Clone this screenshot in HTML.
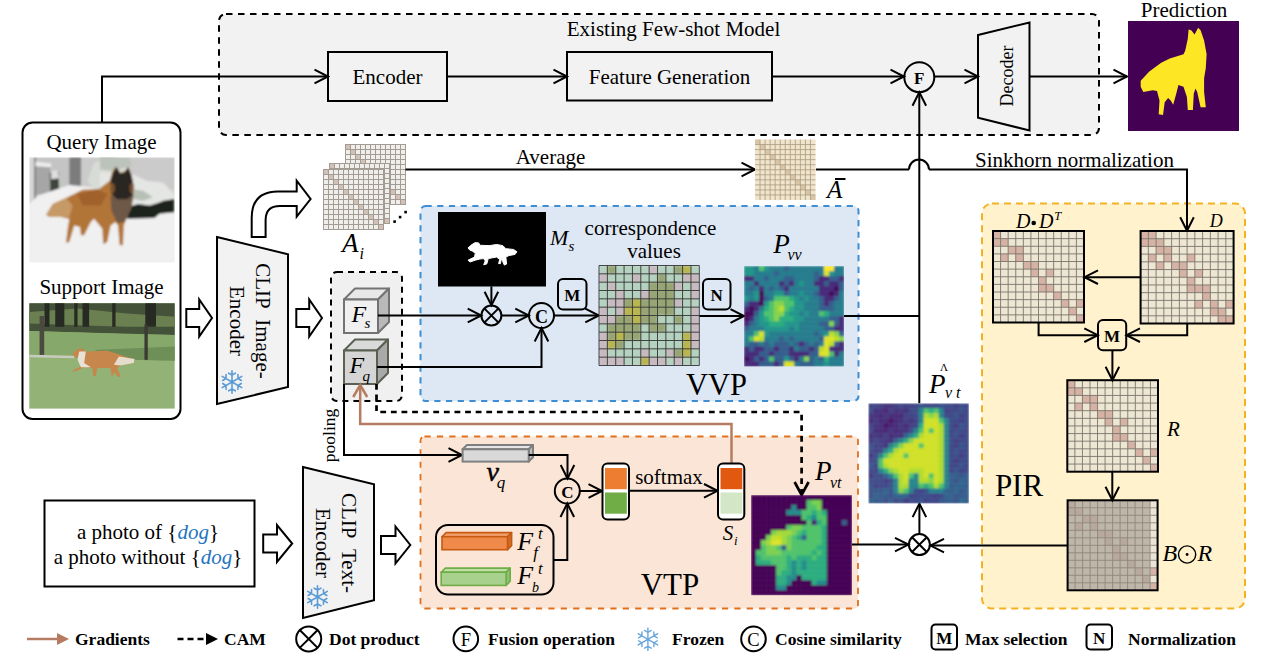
<!DOCTYPE html>
<html><head><meta charset="utf-8"><style>
html,body{margin:0;padding:0;background:#fff;width:1266px;height:654px;overflow:hidden}
svg{display:block}
svg text{font-family:"Liberation Serif",serif}
</style></head><body>
<svg width="1266" height="654" viewBox="0 0 1266 654">
<defs>
<filter id="bl1" x="-10%" y="-10%" width="120%" height="120%"><feGaussianBlur stdDeviation="0.9"/></filter>
<filter id="bl07" x="-10%" y="-10%" width="120%" height="120%"><feGaussianBlur stdDeviation="0.8"/></filter>
<filter id="bl2" x="-10%" y="-10%" width="120%" height="120%"><feGaussianBlur stdDeviation="2.5"/></filter>
<clipPath id="ccorr"><rect x="599" y="265.5" width="100.3" height="100"/></clipPath>
<clipPath id="cq"><rect x="29.3" y="157.3" width="145.4" height="105.3"/></clipPath>
<clipPath id="cvv"><rect x="744" y="266" width="100" height="100.5"/></clipPath>
<clipPath id="cvt"><rect x="751" y="495" width="101" height="100.3"/></clipPath>
<clipPath id="cvth"><rect x="868.3" y="403.2" width="100.6" height="100.2"/></clipPath>
</defs>
<rect x="219" y="14" width="880" height="121" rx="7" fill="#f2f2f2" stroke="#000" stroke-width="2" stroke-dasharray="6.5 5.5"/>
<rect x="420.5" y="206" width="438" height="195" rx="5" fill="#dde8f4" stroke="#3d8ed4" stroke-width="2" stroke-dasharray="6.2 5.5"/>
<rect x="420.5" y="436.5" width="437.5" height="172" rx="4" fill="#fbe5d6" stroke="#e2711d" stroke-width="1.8" stroke-dasharray="6.2 6.2"/>
<rect x="982" y="203.5" width="263" height="405" rx="10" fill="#fff2cc" stroke="#f5b220" stroke-width="2" stroke-dasharray="7 5"/>
<rect x="331" y="272" width="71" height="129" rx="6" fill="#f0f0f0" stroke="#000" stroke-width="2" stroke-dasharray="6 5"/>
<text x="673.5" y="35.5" font-size="21" text-anchor="middle" font-weight="normal" font-style="normal" fill="#000" >Existing Few-shot Model</text>
<rect x="328" y="52" width="119" height="49" fill="none" stroke="#000" stroke-width="2"/>
<text x="387.5" y="83.5" font-size="21" text-anchor="middle" font-weight="normal" font-style="normal" fill="#000" >Encoder</text>
<rect x="567" y="52" width="205" height="48.5" fill="none" stroke="#000" stroke-width="2"/>
<text x="669.5" y="83.5" font-size="21" text-anchor="middle" font-weight="normal" font-style="normal" fill="#000" >Feature Generation</text>
<path d="M102,122 L102,76.5 L328,76.5" fill="none" stroke="#000" stroke-width="2" />
<path d="M314.5,83.3 L328,76.5 L314.5,69.7" fill="none" stroke="#000" stroke-width="2" stroke-linejoin="miter"/>
<path d="M447,76.5 L567,76.5" fill="none" stroke="#000" stroke-width="2" />
<path d="M553.5,83.3 L567,76.5 L553.5,69.7" fill="none" stroke="#000" stroke-width="2" stroke-linejoin="miter"/>
<path d="M772,76.5 L904,76.5" fill="none" stroke="#000" stroke-width="2" />
<path d="M890.5,83.3 L904,76.5 L890.5,69.7" fill="none" stroke="#000" stroke-width="2" stroke-linejoin="miter"/>
<circle cx="919.3" cy="77.2" r="15" fill="none" stroke="#000" stroke-width="2"/>
<text x="919.3" y="83.5" font-size="17" text-anchor="middle" font-weight="bold" font-style="normal" fill="#000" >F</text>
<path d="M934.5,76.5 L978,76.5" fill="none" stroke="#000" stroke-width="2" />
<path d="M964.5,83.3 L978,76.5 L964.5,69.7" fill="none" stroke="#000" stroke-width="2" stroke-linejoin="miter"/>
<path d="M978,35 L1029.5,22.5 L1029.5,130.5 L978,117.7 Z" fill="none" stroke="#000" stroke-width="2"/>
<text x="0" y="0" font-size="18" text-anchor="middle" font-weight="normal" font-style="normal" fill="#000" transform="translate(1012.5,76) rotate(-90)">Decoder</text>
<path d="M1029.5,76.5 L1127,76.5" fill="none" stroke="#000" stroke-width="2" />
<path d="M1113.5,83.3 L1127,76.5 L1113.5,69.7" fill="none" stroke="#000" stroke-width="2" stroke-linejoin="miter"/>
<text x="1184" y="17" font-size="21" text-anchor="middle" font-weight="normal" font-style="normal" fill="#000" >Prediction</text>
<rect x="1128" y="21" width="111" height="110" fill="#440154"/>
<path d="M1140.7,80.8 L1149.3,71.4 L1161.2,62.8 L1169.8,58.5 L1183.5,54.2 L1185.2,50.8 L1187.8,38.8 L1188.6,29.4 L1191.2,30.3 L1194.6,34.6 L1198.1,27.7 L1200.6,30.3 L1204.1,40.5 L1206.6,54.2 L1205.8,67.9 L1204.1,78.2 L1204.1,91.9 L1205.8,107.3 L1200.6,107.3 L1197.2,91.9 L1195.5,88.5 L1193.8,93.6 L1192.9,109.9 L1187.8,109.9 L1186.9,97.1 L1183.5,86.8 L1178.4,85.1 L1176.7,91.9 L1173.2,104.8 L1170.7,100.5 L1168.1,97.9 L1164.7,102.2 L1163.0,115.0 L1158.7,114.2 L1159.5,100.5 L1157.0,91.1 L1152.7,90.2 L1143.3,91.9 L1140.7,86.8 Z" fill="#fde725"/>
<rect x="22.5" y="122.5" width="158" height="296.5" rx="10" fill="#fff" stroke="#000" stroke-width="2"/>
<text x="101.5" y="149.3" font-size="21" text-anchor="middle" font-weight="normal" font-style="normal" fill="#000" >Query Image</text>
<text x="101.5" y="294" font-size="21" text-anchor="middle" font-weight="normal" font-style="normal" fill="#000" >Support Image</text>
<g clip-path="url(#cq)"><g filter="url(#bl07)">
<rect x="29.3" y="157.3" width="145.4" height="105.3" fill="#cdcdcd"/>
<path d="M29.32,157.32 L69.30,157.32 L69.30,185.73 L29.32,202.25 Z" fill="#c4c4c4"/>
<path d="M29.32,157.32 L34.61,157.32 L34.61,198.95 L29.32,203.90 Z" fill="#d6d6d6"/>
<path d="M34.28,157.32 L35.93,157.32 L35.93,197.30 L34.28,199.28 Z" fill="#707070"/>
<path d="M35.93,165.08 L50.30,165.91 L50.30,193.17 L35.93,194.82 Z" fill="#a6a6a6"/>
<path d="M35.43,161.78 L51.13,163.43 L51.13,167.23 L35.43,166.24 Z" fill="#eeeeee"/>
<path d="M49.80,172.52 L58.56,171.69 L59.38,193.99 L50.30,194.32 Z" fill="#3e443e"/>
<path d="M51.13,170.87 L57.73,170.54 L59.05,178.30 L51.13,179.13 Z" fill="#dedede"/>
<path d="M69.30,157.32 L81.19,157.32 L81.19,193.17 L69.30,195.31 Z" fill="#7c7c7c"/>
<path d="M81.19,157.32 L174.68,157.32 L174.68,189.04 L81.19,189.04 Z" fill="#cbcbcb"/>
<path d="M29.32,203.90 L37.91,195.64 L69.30,184.91 L94.07,187.38 L174.68,210.51 L174.68,262.54 L29.32,262.54 Z" fill="#f0f0f0"/>
<path d="M87.46,180.78 L94.07,162.61 L107.29,158.48 L120.50,159.30 L127.11,165.91 L130.41,175.82 L113.89,189.04 L94.07,189.04 Z" fill="#d8dcd6"/>
<path d="M100.00,172.53 L109.92,172.53 L133.06,174.18 L146.28,180.79 L162.81,182.45 L172.73,192.36 L174.38,198.98 L164.46,200.63 L157.85,203.11 L149.59,205.59 L138.02,203.93 L127.27,207.24 L127.27,218.81 L100.00,218.81 Z" fill="#e4e6e3"/>
<path d="M131.40,189.06 L142.98,190.71 L152.89,197.32 L142.98,200.63 L133.06,198.98 Z" fill="#b8c0b6"/>
<path d="M100.00,156.00 L109.92,156.00 L129.75,157.65 L131.40,165.92 L113.22,170.88 L100.00,169.22 Z" fill="#bcc3ba"/>
<path d="M127.27,218.81 L127.27,207.24 L138.02,203.93 L149.59,205.59 L157.85,203.11 L163.64,200.63 L174.38,198.98 L174.38,212.20 L159.50,213.85 L154.55,217.98 Z" fill="#1e231e"/>
<path d="M46.17,214.64 L52.78,203.90 L65.99,198.12 L82.51,189.86 L99.03,189.04 L109.76,180.78 L112.24,171.69 L115.55,166.74 L119.67,173.34 L125.46,170.87 L128.76,167.56 L132.06,177.47 L133.72,189.04 L132.06,202.25 L127.11,217.12 L123.80,225.38 L122.98,245.20 L119.67,245.20 L118.02,225.38 L115.55,222.07 L110.59,225.38 L107.29,241.89 L103.16,244.37 L102.33,228.68 L94.07,218.77 L90.77,222.07 L84.16,235.29 L80.86,235.29 L80.03,227.03 L74.25,225.38 L69.30,241.89 L65.99,242.72 L67.64,228.68 L69.30,218.77 L61.04,217.12 L49.47,217.12 Z" fill="#b27438"/>
<path d="M46.17,214.64 L52.78,203.90 L65.99,198.12 L72.60,205.55 L69.30,217.12 L61.04,217.12 L49.47,217.12 Z" fill="#c69a66"/>
<path d="M77.55,193.99 L97.38,189.86 L107.29,193.99 L100.68,205.55 L82.51,205.55 Z" fill="#a0622c"/>
<path d="M110.59,195.64 L133.72,193.99 L131.24,208.86 L124.63,222.07 L117.20,222.90 L111.42,210.51 Z" fill="#6e5846"/>
<path d="M110.59,180.78 L113.07,172.52 L116.54,166.90 L120.50,173.34 L124.63,172.52 L127.93,166.90 L131.24,174.17 L133.72,185.73 L132.06,195.64 L127.11,199.28 L117.20,199.28 L111.42,193.99 Z" fill="#2c2520"/>
<ellipse cx="112.6" cy="188.2" rx="2.3" ry="5.0" fill="#7a5230"/>
<ellipse cx="131.7" cy="188.2" rx="2.0" ry="5.0" fill="#7a5230"/>
</g></g>
<rect x="29.3" y="303.3" width="145.4" height="105.3" fill="#93b276"/>
<path d="M29.32,303.32 L174.68,303.32 L174.68,335.04 L130.41,334.21 L77.55,332.56 L29.32,330.91 Z" fill="#45523a"/>
<path d="M29.32,311.91 L77.55,308.61 L127.11,313.56 L174.68,316.87 L174.68,326.78 L127.11,326.78 L77.55,325.13 L29.32,323.47 Z" fill="#6a8050"/>
<path d="M55.25,303.32 L64.34,303.32 L64.34,326.78 L55.25,326.78 Z" fill="#262a22"/>
<path d="M82.51,303.32 L89.12,303.32 L89.12,326.78 L82.51,326.78 Z" fill="#262a22"/>
<path d="M112.24,303.32 L115.55,303.32 L115.55,326.78 L112.24,326.78 Z" fill="#262a22"/>
<path d="M145.28,303.32 L156.01,303.32 L156.01,326.78 L145.28,326.78 Z" fill="#262a22"/>
<path d="M44.52,303.32 L49.47,303.32 L49.47,326.78 L44.52,326.78 Z" fill="#262a22"/>
<path d="M74.25,303.32 L77.55,303.32 L77.55,326.78 L74.25,326.78 Z" fill="#262a22"/>
<path d="M29.32,330.91 L174.68,335.04 L174.68,360.64 L29.32,356.51 Z" fill="#86a86a"/>
<path d="M94.07,349.90 L174.68,346.60 L174.68,360.64 L127.11,359.81 Z" fill="#6e9058"/>
<path d="M39.56,316.04 L44.19,316.04 L44.19,354.86 L39.56,354.86 Z" fill="#4a4a40"/>
<path d="M144.45,324.30 L147.76,324.30 L147.76,359.81 L144.45,359.81 Z" fill="#3a3a32"/>
<path d="M29.32,354.86 L74.25,355.68 L74.25,358.16 L29.32,357.34 Z" fill="#c8ccc0"/>
<path d="M71.77,354.86 L77.55,349.08 L82.51,348.25 L85.81,351.55 L107.29,350.73 L118.02,354.03 L127.11,357.34 L134.54,358.99 L133.72,363.12 L120.50,365.59 L117.20,368.07 L120.50,376.33 L118.02,377.16 L113.89,371.38 L113.07,375.51 L111.42,375.51 L110.59,368.07 L97.38,368.07 L95.72,376.33 L93.25,376.33 L92.42,368.07 L84.16,367.25 L77.55,370.55 L71.77,372.20 L74.25,369.72 L80.86,366.42 L79.21,358.16 L75.90,357.34 Z" fill="#c7864c"/>
<path d="M79.21,351.55 L85.81,351.55 L84.16,363.12 L90.77,367.25 L80.86,367.25 L77.55,359.81 Z" fill="#e8e2d6"/>
<path d="M118.85,356.51 L134.54,358.99 L133.72,363.12 L120.50,365.59 L113.89,364.77 Z" fill="#e6dccb"/>
<path d="M186.3,309 H199.2 V299.5 L212,318 L199.2,336.5 V327 H186.3 Z" fill="#fff" stroke="#000" stroke-width="2" stroke-linejoin="miter"/>
<path d="M217,237 L288,254.2 L288,387 L217,404 Z" fill="#f2f2f2" stroke="#000" stroke-width="2"/>
<text x="0" y="0" font-size="21" text-anchor="middle" font-weight="normal" font-style="normal" fill="#000" transform="translate(255.5,321) rotate(90)">CLIP&#160;&#160;Image-</text>
<text x="0" y="0" font-size="21" text-anchor="middle" font-weight="normal" font-style="normal" fill="#000" transform="translate(230,321) rotate(90)">Encoder</text>
<path d="M232,382 L232.00,370.70 M232.00,374.99 L235.39,373.19 M232.00,374.99 L228.61,373.19 M232,382 L222.21,376.35 M225.93,378.50 L226.07,374.66 M225.93,378.50 L222.67,380.53 M232,382 L222.21,387.65 M225.93,385.50 L222.67,383.47 M225.93,385.50 L226.07,389.34 M232,382 L232.00,393.30 M232.00,389.01 L228.61,390.81 M232.00,389.01 L235.39,390.81 M232,382 L241.79,387.65 M238.07,385.50 L237.93,389.34 M238.07,385.50 L241.33,383.47 M232,382 L241.79,376.35 M238.07,378.50 L241.33,380.53 M238.07,378.50 L237.93,374.66 " stroke="#5b9bd5" stroke-width="1.6" fill="none" stroke-linecap="round"/>
<path d="M296.3,309 H309.2 V299.5 L322,318 L309.2,336.5 V327 H296.3 Z" fill="#fff" stroke="#000" stroke-width="2" stroke-linejoin="miter"/>
<path d="M251.7,237 V218 Q251.7,191.4 278,191.4 H296.7 V180.7 L310.6,199 L296.7,216.7 V206 H280 Q265.6,206 265.6,220 V237 Z" fill="#fff" stroke="#000" stroke-width="2" stroke-linejoin="miter"/>
<rect x="345" y="144" width="61" height="61" fill="#f0eeeb"/>
<rect x="346" y="145" width="4" height="4" fill="#d3c1b5"/>
<rect x="351" y="150" width="4" height="4" fill="#d3c1b5"/>
<rect x="356" y="155" width="4" height="4" fill="#d3c1b5"/>
<rect x="361" y="160" width="4" height="4" fill="#d3c1b5"/>
<rect x="366" y="165" width="4" height="4" fill="#d3c1b5"/>
<rect x="371" y="170" width="4" height="4" fill="#d3c1b5"/>
<rect x="376" y="175" width="4" height="4" fill="#d3c1b5"/>
<rect x="381" y="180" width="4" height="4" fill="#d3c1b5"/>
<rect x="386" y="185" width="4" height="4" fill="#d3c1b5"/>
<rect x="391" y="190" width="4" height="4" fill="#d3c1b5"/>
<rect x="396" y="195" width="4" height="4" fill="#d3c1b5"/>
<rect x="401" y="200" width="4" height="4" fill="#d3c1b5"/>
<path d="M345.5,144 V205 M345,144.5 H406 M350.5,144 V205 M345,149.5 H406 M355.5,144 V205 M345,154.5 H406 M360.5,144 V205 M345,159.5 H406 M365.5,144 V205 M345,164.5 H406 M370.5,144 V205 M345,169.5 H406 M375.5,144 V205 M345,174.5 H406 M380.5,144 V205 M345,179.5 H406 M385.5,144 V205 M345,184.5 H406 M390.5,144 V205 M345,189.5 H406 M395.5,144 V205 M345,194.5 H406 M400.5,144 V205 M345,199.5 H406 M405.5,144 V205 M345,204.5 H406 " stroke="#a29c95" stroke-width="1" fill="none"/>
<rect x="329" y="163" width="61" height="61" fill="#f0eeeb"/>
<rect x="330" y="164" width="4" height="4" fill="#d3c1b5"/>
<rect x="335" y="169" width="4" height="4" fill="#d3c1b5"/>
<rect x="340" y="174" width="4" height="4" fill="#d3c1b5"/>
<rect x="345" y="179" width="4" height="4" fill="#d3c1b5"/>
<rect x="350" y="184" width="4" height="4" fill="#d3c1b5"/>
<rect x="355" y="189" width="4" height="4" fill="#d3c1b5"/>
<rect x="360" y="194" width="4" height="4" fill="#d3c1b5"/>
<rect x="365" y="199" width="4" height="4" fill="#d3c1b5"/>
<rect x="370" y="204" width="4" height="4" fill="#d3c1b5"/>
<rect x="375" y="209" width="4" height="4" fill="#d3c1b5"/>
<rect x="380" y="214" width="4" height="4" fill="#d3c1b5"/>
<rect x="385" y="219" width="4" height="4" fill="#d3c1b5"/>
<path d="M329.5,163 V224 M329,163.5 H390 M334.5,163 V224 M329,168.5 H390 M339.5,163 V224 M329,173.5 H390 M344.5,163 V224 M329,178.5 H390 M349.5,163 V224 M329,183.5 H390 M354.5,163 V224 M329,188.5 H390 M359.5,163 V224 M329,193.5 H390 M364.5,163 V224 M329,198.5 H390 M369.5,163 V224 M329,203.5 H390 M374.5,163 V224 M329,208.5 H390 M379.5,163 V224 M329,213.5 H390 M384.5,163 V224 M329,218.5 H390 M389.5,163 V224 M329,223.5 H390 " stroke="#a29c95" stroke-width="1" fill="none"/>
<rect x="323" y="169" width="61" height="61" fill="#f0eeeb"/>
<rect x="324" y="170" width="4" height="4" fill="#d3c1b5"/>
<rect x="329" y="175" width="4" height="4" fill="#d3c1b5"/>
<rect x="334" y="180" width="4" height="4" fill="#d3c1b5"/>
<rect x="339" y="185" width="4" height="4" fill="#d3c1b5"/>
<rect x="344" y="190" width="4" height="4" fill="#d3c1b5"/>
<rect x="349" y="195" width="4" height="4" fill="#d3c1b5"/>
<rect x="354" y="200" width="4" height="4" fill="#d3c1b5"/>
<rect x="359" y="205" width="4" height="4" fill="#d3c1b5"/>
<rect x="364" y="210" width="4" height="4" fill="#d3c1b5"/>
<rect x="369" y="215" width="4" height="4" fill="#d3c1b5"/>
<rect x="374" y="220" width="4" height="4" fill="#d3c1b5"/>
<rect x="379" y="225" width="4" height="4" fill="#d3c1b5"/>
<path d="M323.5,169 V230 M323,169.5 H384 M328.5,169 V230 M323,174.5 H384 M333.5,169 V230 M323,179.5 H384 M338.5,169 V230 M323,184.5 H384 M343.5,169 V230 M323,189.5 H384 M348.5,169 V230 M323,194.5 H384 M353.5,169 V230 M323,199.5 H384 M358.5,169 V230 M323,204.5 H384 M363.5,169 V230 M323,209.5 H384 M368.5,169 V230 M323,214.5 H384 M373.5,169 V230 M323,219.5 H384 M378.5,169 V230 M323,224.5 H384 M383.5,169 V230 M323,229.5 H384 " stroke="#a29c95" stroke-width="1" fill="none"/>
<text x="342" y="251.7" font-size="27" text-anchor="start" font-weight="normal" font-style="italic" fill="#000" >A</text>
<text x="359.6" y="259" font-size="16" text-anchor="start" font-weight="normal" font-style="italic" fill="#000" >i</text>
<rect x="393.3" y="220.3" width="2.6" height="2.6" fill="#000"/>
<rect x="398.8" y="215.8" width="2.6" height="2.6" fill="#000"/>
<rect x="404.3" y="210.8" width="2.6" height="2.6" fill="#000"/>
<text x="550.5" y="163.5" font-size="21" text-anchor="middle" font-weight="normal" font-style="normal" fill="#000" >Average</text>
<path d="M405.5,169.5 L755,169.5" fill="none" stroke="#000" stroke-width="2" />
<path d="M741.5,176.3 L755,169.5 L741.5,162.7" fill="none" stroke="#000" stroke-width="2" stroke-linejoin="miter"/>
<rect x="755" y="139.5" width="60.5" height="60.5" fill="#f0e4cc"/>
<rect x="755.00" y="139.50" width="5.04" height="5.04" fill="#d8c6a6"/>
<rect x="760.04" y="144.54" width="5.04" height="5.04" fill="#d8c6a6"/>
<rect x="765.08" y="149.58" width="5.04" height="5.04" fill="#d8c6a6"/>
<rect x="770.12" y="154.62" width="5.04" height="5.04" fill="#d8c6a6"/>
<rect x="775.17" y="159.67" width="5.04" height="5.04" fill="#d8c6a6"/>
<rect x="780.21" y="164.71" width="5.04" height="5.04" fill="#d8c6a6"/>
<rect x="785.25" y="169.75" width="5.04" height="5.04" fill="#d8c6a6"/>
<rect x="790.29" y="174.79" width="5.04" height="5.04" fill="#d8c6a6"/>
<rect x="795.33" y="179.83" width="5.04" height="5.04" fill="#d8c6a6"/>
<rect x="800.38" y="184.88" width="5.04" height="5.04" fill="#d8c6a6"/>
<rect x="805.42" y="189.92" width="5.04" height="5.04" fill="#d8c6a6"/>
<rect x="810.46" y="194.96" width="5.04" height="5.04" fill="#d8c6a6"/>
<path d="M760.04,139.5 V200.0 M755,144.54 H815.5 M765.08,139.5 V200.0 M755,149.58 H815.5 M770.12,139.5 V200.0 M755,154.62 H815.5 M775.17,139.5 V200.0 M755,159.67 H815.5 M780.21,139.5 V200.0 M755,164.71 H815.5 M785.25,139.5 V200.0 M755,169.75 H815.5 M790.29,139.5 V200.0 M755,174.79 H815.5 M795.33,139.5 V200.0 M755,179.83 H815.5 M800.38,139.5 V200.0 M755,184.88 H815.5 M805.42,139.5 V200.0 M755,189.92 H815.5 M810.46,139.5 V200.0 M755,194.96 H815.5 " stroke="#a99a7e" stroke-width="0.8" fill="none"/>
<text x="827" y="197.6" font-size="25" text-anchor="start" font-weight="normal" font-style="italic" fill="#000" >A</text>
<rect x="835" y="178" width="10.5" height="2" fill="#000"/>
<path d="M816,169.5 L909,169.5" fill="none" stroke="#000" stroke-width="2" />
<path d="M909,169.5 A10,10 0 0 1 929,169.5" fill="none" stroke="#000" stroke-width="2"/>
<path d="M929,169.5 L1187,169.5 L1187,230.8" fill="none" stroke="#000" stroke-width="2" />
<path d="M1180.2,217.3 L1187,230.8 L1193.8,217.3" fill="none" stroke="#000" stroke-width="2" stroke-linejoin="miter"/>
<text x="1074.5" y="167" font-size="21" text-anchor="middle" font-weight="normal" font-style="normal" fill="#000" >Sinkhorn normalization</text>
<path d="M344,299.5 L355,288.5 L389,288.5 L378,299.5 Z" fill="#e8e8e8" stroke="#737373" stroke-width="2" stroke-linejoin="round"/>
<path d="M378,299.5 L389,288.5 L389,322 L378,333 Z" fill="#b9b9b9" stroke="#737373" stroke-width="2" stroke-linejoin="round"/>
<rect x="344" y="299.5" width="34" height="33.5" fill="#f0f0f0" stroke="#737373" stroke-width="2"/>
<path d="M344,350.5 L355,339.5 L388,339.5 L377,350.5 Z" fill="#dadada" stroke="#596052" stroke-width="2" stroke-linejoin="round"/>
<path d="M377,350.5 L388,339.5 L388,373 L377,384 Z" fill="#a9a9a9" stroke="#596052" stroke-width="2" stroke-linejoin="round"/>
<rect x="344" y="350.5" width="33" height="33.5" fill="#d5d5d5" stroke="#596052" stroke-width="2"/>
<text x="351.5" y="321.5" font-size="24" text-anchor="start" font-weight="normal" font-style="italic" fill="#000" >F</text>
<text x="364.5" y="327.5" font-size="15" text-anchor="start" font-weight="normal" font-style="italic" fill="#000" >s</text>
<text x="349.5" y="373" font-size="24" text-anchor="start" font-weight="normal" font-style="italic" fill="#000" >F</text>
<text x="362.5" y="380.5" font-size="15" text-anchor="start" font-weight="normal" font-style="italic" fill="#000" >q</text>
<text x="0" y="0" font-size="17.5" text-anchor="middle" font-weight="normal" font-style="normal" fill="#000" transform="translate(335,435.5) rotate(-90)">pooling</text>
<rect x="438" y="212" width="108" height="74.5" fill="#000"/>
<path d="M468.02,247.93 L471.46,244.87 L475.28,242.58 L478.72,242.96 L479.87,245.25 L489.04,245.63 L496.68,244.49 L502.79,245.63 L505.85,248.69 L513.49,249.45 L516.93,251.75 L515.02,254.42 L508.91,255.57 L505.85,257.10 L506.61,263.97 L504.32,265.12 L502.79,261.68 L501.27,258.62 L500.50,263.59 L498.59,263.59 L499.74,259.39 L496.68,257.10 L492.10,257.86 L488.27,258.62 L486.75,263.97 L483.69,264.74 L485.22,260.92 L483.69,258.62 L479.87,259.01 L475.28,260.15 L469.93,262.06 L468.02,260.15 L474.52,257.10 L475.28,253.27 L472.23,250.98 L469.93,250.22 Z" fill="#fff" stroke="#fff" stroke-width="1" stroke-linejoin="round"/>
<text x="550" y="245" font-size="22" text-anchor="start" font-weight="normal" font-style="italic" fill="#000" >M</text>
<text x="568.5" y="250.5" font-size="15" text-anchor="start" font-weight="normal" font-style="italic" fill="#000" >s</text>
<path d="M491.4,286.4 L491.4,305.3" fill="none" stroke="#000" stroke-width="2" />
<path d="M484.6,291.8 L491.4,305.3 L498.2,291.8" fill="none" stroke="#000" stroke-width="2" stroke-linejoin="miter"/>
<path d="M378,315.5 L481.2,315.5" fill="none" stroke="#000" stroke-width="2" />
<path d="M467.7,322.3 L481.2,315.5 L467.7,308.7" fill="none" stroke="#000" stroke-width="2" stroke-linejoin="miter"/>
<circle cx="491.4" cy="315.5" r="10" fill="none" stroke="#000" stroke-width="2"/>
<path d="M484.3,308.4 L498.5,322.6 M498.5,308.4 L484.3,322.6" stroke="#000" stroke-width="2"/>
<path d="M501.5,315.5 L528.8,315.5" fill="none" stroke="#000" stroke-width="2" />
<path d="M515.3,322.3 L528.8,315.5 L515.3,308.7" fill="none" stroke="#000" stroke-width="2" stroke-linejoin="miter"/>
<circle cx="541.5" cy="315.5" r="12.5" fill="none" stroke="#000" stroke-width="2"/>
<text x="541.5" y="322.5" font-size="18" text-anchor="middle" font-weight="bold" font-style="normal" fill="#000" >C</text>
<path d="M377,367 L541.5,367 L541.5,328" fill="none" stroke="#000" stroke-width="2" />
<path d="M548.3,341.5 L541.5,328 L534.7,341.5" fill="none" stroke="#000" stroke-width="2" stroke-linejoin="miter"/>
<rect x="558" y="279" width="28.5" height="30.5" rx="5" fill="none" stroke="#000" stroke-width="2"/>
<text x="572.3" y="301" font-size="17" text-anchor="middle" font-weight="bold" font-style="normal" fill="#000" >M</text>
<path d="M554,315.5 L598.8,315.5" fill="none" stroke="#000" stroke-width="2" />
<path d="M585.3,322.3 L598.8,315.5 L585.3,308.7" fill="none" stroke="#000" stroke-width="2" stroke-linejoin="miter"/>
<text x="650.5" y="234.5" font-size="21" text-anchor="middle" font-weight="normal" font-style="normal" fill="#000" >correspondence</text>
<text x="654" y="257.5" font-size="21" text-anchor="middle" font-weight="normal" font-style="normal" fill="#000" >values</text>
<g clip-path="url(#ccorr)"><g filter="url(#bl1)">
<rect x="599.00" y="265.50" width="8.66" height="8.63" fill="#b4d2bf"/>
<rect x="607.36" y="265.50" width="8.66" height="8.63" fill="#97a574"/>
<rect x="615.72" y="265.50" width="8.66" height="8.63" fill="#b4d2bf"/>
<rect x="624.08" y="265.50" width="8.66" height="8.63" fill="#b4d2bf"/>
<rect x="632.43" y="265.50" width="8.66" height="8.63" fill="#b4d2bf"/>
<rect x="640.79" y="265.50" width="8.66" height="8.63" fill="#b4d2bf"/>
<rect x="649.15" y="265.50" width="8.66" height="8.63" fill="#c7b9bf"/>
<rect x="657.51" y="265.50" width="8.66" height="8.63" fill="#b4d2bf"/>
<rect x="665.87" y="265.50" width="8.66" height="8.63" fill="#b4d2bf"/>
<rect x="674.23" y="265.50" width="8.66" height="8.63" fill="#97a574"/>
<rect x="682.58" y="265.50" width="8.66" height="8.63" fill="#bab64e"/>
<rect x="690.94" y="265.50" width="8.66" height="8.63" fill="#b4d2bf"/>
<rect x="599.00" y="273.83" width="8.66" height="8.63" fill="#c7b9bf"/>
<rect x="607.36" y="273.83" width="8.66" height="8.63" fill="#b4d2bf"/>
<rect x="615.72" y="273.83" width="8.66" height="8.63" fill="#b4d2bf"/>
<rect x="624.08" y="273.83" width="8.66" height="8.63" fill="#b4d2bf"/>
<rect x="632.43" y="273.83" width="8.66" height="8.63" fill="#c7b9bf"/>
<rect x="640.79" y="273.83" width="8.66" height="8.63" fill="#b4d2bf"/>
<rect x="649.15" y="273.83" width="8.66" height="8.63" fill="#b4d2bf"/>
<rect x="657.51" y="273.83" width="8.66" height="8.63" fill="#97a574"/>
<rect x="665.87" y="273.83" width="8.66" height="8.63" fill="#b4d2bf"/>
<rect x="674.23" y="273.83" width="8.66" height="8.63" fill="#b4d2bf"/>
<rect x="682.58" y="273.83" width="8.66" height="8.63" fill="#c7b9bf"/>
<rect x="690.94" y="273.83" width="8.66" height="8.63" fill="#c7b9bf"/>
<rect x="599.00" y="282.17" width="8.66" height="8.63" fill="#b4d2bf"/>
<rect x="607.36" y="282.17" width="8.66" height="8.63" fill="#c7b9bf"/>
<rect x="615.72" y="282.17" width="8.66" height="8.63" fill="#b4d2bf"/>
<rect x="624.08" y="282.17" width="8.66" height="8.63" fill="#b4d2bf"/>
<rect x="632.43" y="282.17" width="8.66" height="8.63" fill="#b4d2bf"/>
<rect x="640.79" y="282.17" width="8.66" height="8.63" fill="#b4d2bf"/>
<rect x="649.15" y="282.17" width="8.66" height="8.63" fill="#97a574"/>
<rect x="657.51" y="282.17" width="8.66" height="8.63" fill="#97a574"/>
<rect x="665.87" y="282.17" width="8.66" height="8.63" fill="#97a574"/>
<rect x="674.23" y="282.17" width="8.66" height="8.63" fill="#c7b9bf"/>
<rect x="682.58" y="282.17" width="8.66" height="8.63" fill="#b4d2bf"/>
<rect x="690.94" y="282.17" width="8.66" height="8.63" fill="#c7b9bf"/>
<rect x="599.00" y="290.50" width="8.66" height="8.63" fill="#b4d2bf"/>
<rect x="607.36" y="290.50" width="8.66" height="8.63" fill="#b4d2bf"/>
<rect x="615.72" y="290.50" width="8.66" height="8.63" fill="#c7b9bf"/>
<rect x="624.08" y="290.50" width="8.66" height="8.63" fill="#b4d2bf"/>
<rect x="632.43" y="290.50" width="8.66" height="8.63" fill="#b4d2bf"/>
<rect x="640.79" y="290.50" width="8.66" height="8.63" fill="#c7b9bf"/>
<rect x="649.15" y="290.50" width="8.66" height="8.63" fill="#97a574"/>
<rect x="657.51" y="290.50" width="8.66" height="8.63" fill="#97a574"/>
<rect x="665.87" y="290.50" width="8.66" height="8.63" fill="#97a574"/>
<rect x="674.23" y="290.50" width="8.66" height="8.63" fill="#b4d2bf"/>
<rect x="682.58" y="290.50" width="8.66" height="8.63" fill="#b4d2bf"/>
<rect x="690.94" y="290.50" width="8.66" height="8.63" fill="#c7b9bf"/>
<rect x="599.00" y="298.83" width="8.66" height="8.63" fill="#b4d2bf"/>
<rect x="607.36" y="298.83" width="8.66" height="8.63" fill="#c7b9bf"/>
<rect x="615.72" y="298.83" width="8.66" height="8.63" fill="#c7b9bf"/>
<rect x="624.08" y="298.83" width="8.66" height="8.63" fill="#97a574"/>
<rect x="632.43" y="298.83" width="8.66" height="8.63" fill="#bab64e"/>
<rect x="640.79" y="298.83" width="8.66" height="8.63" fill="#97a574"/>
<rect x="649.15" y="298.83" width="8.66" height="8.63" fill="#97a574"/>
<rect x="657.51" y="298.83" width="8.66" height="8.63" fill="#97a574"/>
<rect x="665.87" y="298.83" width="8.66" height="8.63" fill="#97a574"/>
<rect x="674.23" y="298.83" width="8.66" height="8.63" fill="#c7b9bf"/>
<rect x="682.58" y="298.83" width="8.66" height="8.63" fill="#b4d2bf"/>
<rect x="690.94" y="298.83" width="8.66" height="8.63" fill="#b4d2bf"/>
<rect x="599.00" y="307.17" width="8.66" height="8.63" fill="#c7b9bf"/>
<rect x="607.36" y="307.17" width="8.66" height="8.63" fill="#b4d2bf"/>
<rect x="615.72" y="307.17" width="8.66" height="8.63" fill="#c7b9bf"/>
<rect x="624.08" y="307.17" width="8.66" height="8.63" fill="#bab64e"/>
<rect x="632.43" y="307.17" width="8.66" height="8.63" fill="#bab64e"/>
<rect x="640.79" y="307.17" width="8.66" height="8.63" fill="#97a574"/>
<rect x="649.15" y="307.17" width="8.66" height="8.63" fill="#97a574"/>
<rect x="657.51" y="307.17" width="8.66" height="8.63" fill="#97a574"/>
<rect x="665.87" y="307.17" width="8.66" height="8.63" fill="#97a574"/>
<rect x="674.23" y="307.17" width="8.66" height="8.63" fill="#b4d2bf"/>
<rect x="682.58" y="307.17" width="8.66" height="8.63" fill="#b4d2bf"/>
<rect x="690.94" y="307.17" width="8.66" height="8.63" fill="#c7b9bf"/>
<rect x="599.00" y="315.50" width="8.66" height="8.63" fill="#c7b9bf"/>
<rect x="607.36" y="315.50" width="8.66" height="8.63" fill="#c7b9bf"/>
<rect x="615.72" y="315.50" width="8.66" height="8.63" fill="#97a574"/>
<rect x="624.08" y="315.50" width="8.66" height="8.63" fill="#97a574"/>
<rect x="632.43" y="315.50" width="8.66" height="8.63" fill="#bab64e"/>
<rect x="640.79" y="315.50" width="8.66" height="8.63" fill="#97a574"/>
<rect x="649.15" y="315.50" width="8.66" height="8.63" fill="#97a574"/>
<rect x="657.51" y="315.50" width="8.66" height="8.63" fill="#b4d2bf"/>
<rect x="665.87" y="315.50" width="8.66" height="8.63" fill="#b4d2bf"/>
<rect x="674.23" y="315.50" width="8.66" height="8.63" fill="#97a574"/>
<rect x="682.58" y="315.50" width="8.66" height="8.63" fill="#b4d2bf"/>
<rect x="690.94" y="315.50" width="8.66" height="8.63" fill="#c7b9bf"/>
<rect x="599.00" y="323.83" width="8.66" height="8.63" fill="#b4d2bf"/>
<rect x="607.36" y="323.83" width="8.66" height="8.63" fill="#97a574"/>
<rect x="615.72" y="323.83" width="8.66" height="8.63" fill="#97a574"/>
<rect x="624.08" y="323.83" width="8.66" height="8.63" fill="#97a574"/>
<rect x="632.43" y="323.83" width="8.66" height="8.63" fill="#97a574"/>
<rect x="640.79" y="323.83" width="8.66" height="8.63" fill="#b4d2bf"/>
<rect x="649.15" y="323.83" width="8.66" height="8.63" fill="#97a574"/>
<rect x="657.51" y="323.83" width="8.66" height="8.63" fill="#97a574"/>
<rect x="665.87" y="323.83" width="8.66" height="8.63" fill="#b4d2bf"/>
<rect x="674.23" y="323.83" width="8.66" height="8.63" fill="#b4d2bf"/>
<rect x="682.58" y="323.83" width="8.66" height="8.63" fill="#b4d2bf"/>
<rect x="690.94" y="323.83" width="8.66" height="8.63" fill="#c7b9bf"/>
<rect x="599.00" y="332.17" width="8.66" height="8.63" fill="#c7b9bf"/>
<rect x="607.36" y="332.17" width="8.66" height="8.63" fill="#97a574"/>
<rect x="615.72" y="332.17" width="8.66" height="8.63" fill="#bab64e"/>
<rect x="624.08" y="332.17" width="8.66" height="8.63" fill="#97a574"/>
<rect x="632.43" y="332.17" width="8.66" height="8.63" fill="#97a574"/>
<rect x="640.79" y="332.17" width="8.66" height="8.63" fill="#b4d2bf"/>
<rect x="649.15" y="332.17" width="8.66" height="8.63" fill="#b4d2bf"/>
<rect x="657.51" y="332.17" width="8.66" height="8.63" fill="#b4d2bf"/>
<rect x="665.87" y="332.17" width="8.66" height="8.63" fill="#b4d2bf"/>
<rect x="674.23" y="332.17" width="8.66" height="8.63" fill="#b4d2bf"/>
<rect x="682.58" y="332.17" width="8.66" height="8.63" fill="#bab64e"/>
<rect x="690.94" y="332.17" width="8.66" height="8.63" fill="#c7b9bf"/>
<rect x="599.00" y="340.50" width="8.66" height="8.63" fill="#c7b9bf"/>
<rect x="607.36" y="340.50" width="8.66" height="8.63" fill="#bab64e"/>
<rect x="615.72" y="340.50" width="8.66" height="8.63" fill="#97a574"/>
<rect x="624.08" y="340.50" width="8.66" height="8.63" fill="#b4d2bf"/>
<rect x="632.43" y="340.50" width="8.66" height="8.63" fill="#b4d2bf"/>
<rect x="640.79" y="340.50" width="8.66" height="8.63" fill="#b4d2bf"/>
<rect x="649.15" y="340.50" width="8.66" height="8.63" fill="#b4d2bf"/>
<rect x="657.51" y="340.50" width="8.66" height="8.63" fill="#b4d2bf"/>
<rect x="665.87" y="340.50" width="8.66" height="8.63" fill="#b4d2bf"/>
<rect x="674.23" y="340.50" width="8.66" height="8.63" fill="#b4d2bf"/>
<rect x="682.58" y="340.50" width="8.66" height="8.63" fill="#bab64e"/>
<rect x="690.94" y="340.50" width="8.66" height="8.63" fill="#c7b9bf"/>
<rect x="599.00" y="348.83" width="8.66" height="8.63" fill="#c7b9bf"/>
<rect x="607.36" y="348.83" width="8.66" height="8.63" fill="#b4d2bf"/>
<rect x="615.72" y="348.83" width="8.66" height="8.63" fill="#b4d2bf"/>
<rect x="624.08" y="348.83" width="8.66" height="8.63" fill="#b4d2bf"/>
<rect x="632.43" y="348.83" width="8.66" height="8.63" fill="#b4d2bf"/>
<rect x="640.79" y="348.83" width="8.66" height="8.63" fill="#c7b9bf"/>
<rect x="649.15" y="348.83" width="8.66" height="8.63" fill="#b4d2bf"/>
<rect x="657.51" y="348.83" width="8.66" height="8.63" fill="#b4d2bf"/>
<rect x="665.87" y="348.83" width="8.66" height="8.63" fill="#c7b9bf"/>
<rect x="674.23" y="348.83" width="8.66" height="8.63" fill="#97a574"/>
<rect x="682.58" y="348.83" width="8.66" height="8.63" fill="#bab64e"/>
<rect x="690.94" y="348.83" width="8.66" height="8.63" fill="#b4d2bf"/>
<rect x="599.00" y="357.17" width="8.66" height="8.63" fill="#c7b9bf"/>
<rect x="607.36" y="357.17" width="8.66" height="8.63" fill="#c7b9bf"/>
<rect x="615.72" y="357.17" width="8.66" height="8.63" fill="#c7b9bf"/>
<rect x="624.08" y="357.17" width="8.66" height="8.63" fill="#b4d2bf"/>
<rect x="632.43" y="357.17" width="8.66" height="8.63" fill="#b4d2bf"/>
<rect x="640.79" y="357.17" width="8.66" height="8.63" fill="#bab64e"/>
<rect x="649.15" y="357.17" width="8.66" height="8.63" fill="#c7b9bf"/>
<rect x="657.51" y="357.17" width="8.66" height="8.63" fill="#c7b9bf"/>
<rect x="665.87" y="357.17" width="8.66" height="8.63" fill="#b4d2bf"/>
<rect x="674.23" y="357.17" width="8.66" height="8.63" fill="#c7b9bf"/>
<rect x="682.58" y="357.17" width="8.66" height="8.63" fill="#b4d2bf"/>
<rect x="690.94" y="357.17" width="8.66" height="8.63" fill="#b4d2bf"/>
</g></g>
<path d="M599.00,265.5 V365.5 M599,265.50 H699.3 M607.36,265.5 V365.5 M599,273.83 H699.3 M615.72,265.5 V365.5 M599,282.17 H699.3 M624.08,265.5 V365.5 M599,290.50 H699.3 M632.43,265.5 V365.5 M599,298.83 H699.3 M640.79,265.5 V365.5 M599,307.17 H699.3 M649.15,265.5 V365.5 M599,315.50 H699.3 M657.51,265.5 V365.5 M599,323.83 H699.3 M665.87,265.5 V365.5 M599,332.17 H699.3 M674.23,265.5 V365.5 M599,340.50 H699.3 M682.58,265.5 V365.5 M599,348.83 H699.3 M690.94,265.5 V365.5 M599,357.17 H699.3 M699.30,265.5 V365.5 M599,365.50 H699.3 " stroke="#333333" stroke-width="0.9" fill="none"/>
<rect x="703" y="279" width="27.5" height="30.5" rx="5" fill="none" stroke="#000" stroke-width="2"/>
<text x="716.7" y="301" font-size="17" text-anchor="middle" font-weight="bold" font-style="normal" fill="#000" >N</text>
<path d="M699.5,316 L744,316" fill="none" stroke="#000" stroke-width="2" />
<path d="M730.5,322.8 L744,316 L730.5,309.2" fill="none" stroke="#000" stroke-width="2" stroke-linejoin="miter"/>
<g clip-path="url(#cvv)"><g filter="url(#bl1)">
<rect x="744.00" y="266.00" width="5.40" height="5.43" fill="#21968a"/>
<rect x="749.00" y="266.00" width="5.40" height="5.43" fill="#21968a"/>
<rect x="754.00" y="266.00" width="5.40" height="5.43" fill="#287d8e"/>
<rect x="759.00" y="266.00" width="5.40" height="5.43" fill="#4fc36a"/>
<rect x="764.00" y="266.00" width="5.40" height="5.43" fill="#21968a"/>
<rect x="769.00" y="266.00" width="5.40" height="5.43" fill="#287d8e"/>
<rect x="774.00" y="266.00" width="5.40" height="5.43" fill="#287d8e"/>
<rect x="779.00" y="266.00" width="5.40" height="5.43" fill="#287d8e"/>
<rect x="784.00" y="266.00" width="5.40" height="5.43" fill="#355f8d"/>
<rect x="789.00" y="266.00" width="5.40" height="5.43" fill="#287d8e"/>
<rect x="794.00" y="266.00" width="5.40" height="5.43" fill="#287d8e"/>
<rect x="799.00" y="266.00" width="5.40" height="5.43" fill="#287d8e"/>
<rect x="804.00" y="266.00" width="5.40" height="5.43" fill="#287d8e"/>
<rect x="809.00" y="266.00" width="5.40" height="5.43" fill="#287d8e"/>
<rect x="814.00" y="266.00" width="5.40" height="5.43" fill="#287d8e"/>
<rect x="819.00" y="266.00" width="5.40" height="5.43" fill="#287d8e"/>
<rect x="824.00" y="266.00" width="5.40" height="5.43" fill="#fde725"/>
<rect x="829.00" y="266.00" width="5.40" height="5.43" fill="#fde725"/>
<rect x="834.00" y="266.00" width="5.40" height="5.43" fill="#287d8e"/>
<rect x="839.00" y="266.00" width="5.40" height="5.43" fill="#287d8e"/>
<rect x="744.00" y="271.02" width="5.40" height="5.43" fill="#21968a"/>
<rect x="749.00" y="271.02" width="5.40" height="5.43" fill="#21968a"/>
<rect x="754.00" y="271.02" width="5.40" height="5.43" fill="#287d8e"/>
<rect x="759.00" y="271.02" width="5.40" height="5.43" fill="#287d8e"/>
<rect x="764.00" y="271.02" width="5.40" height="5.43" fill="#287d8e"/>
<rect x="769.00" y="271.02" width="5.40" height="5.43" fill="#287d8e"/>
<rect x="774.00" y="271.02" width="5.40" height="5.43" fill="#355f8d"/>
<rect x="779.00" y="271.02" width="5.40" height="5.43" fill="#287d8e"/>
<rect x="784.00" y="271.02" width="5.40" height="5.43" fill="#287d8e"/>
<rect x="789.00" y="271.02" width="5.40" height="5.43" fill="#287d8e"/>
<rect x="794.00" y="271.02" width="5.40" height="5.43" fill="#287d8e"/>
<rect x="799.00" y="271.02" width="5.40" height="5.43" fill="#287d8e"/>
<rect x="804.00" y="271.02" width="5.40" height="5.43" fill="#287d8e"/>
<rect x="809.00" y="271.02" width="5.40" height="5.43" fill="#287d8e"/>
<rect x="814.00" y="271.02" width="5.40" height="5.43" fill="#355f8d"/>
<rect x="819.00" y="271.02" width="5.40" height="5.43" fill="#287d8e"/>
<rect x="824.00" y="271.02" width="5.40" height="5.43" fill="#dde326"/>
<rect x="829.00" y="271.02" width="5.40" height="5.43" fill="#21968a"/>
<rect x="834.00" y="271.02" width="5.40" height="5.43" fill="#287d8e"/>
<rect x="839.00" y="271.02" width="5.40" height="5.43" fill="#287d8e"/>
<rect x="744.00" y="276.05" width="5.40" height="5.43" fill="#472a79"/>
<rect x="749.00" y="276.05" width="5.40" height="5.43" fill="#472a79"/>
<rect x="754.00" y="276.05" width="5.40" height="5.43" fill="#287d8e"/>
<rect x="759.00" y="276.05" width="5.40" height="5.43" fill="#287d8e"/>
<rect x="764.00" y="276.05" width="5.40" height="5.43" fill="#355f8d"/>
<rect x="769.00" y="276.05" width="5.40" height="5.43" fill="#287d8e"/>
<rect x="774.00" y="276.05" width="5.40" height="5.43" fill="#287d8e"/>
<rect x="779.00" y="276.05" width="5.40" height="5.43" fill="#287d8e"/>
<rect x="784.00" y="276.05" width="5.40" height="5.43" fill="#355f8d"/>
<rect x="789.00" y="276.05" width="5.40" height="5.43" fill="#355f8d"/>
<rect x="794.00" y="276.05" width="5.40" height="5.43" fill="#287d8e"/>
<rect x="799.00" y="276.05" width="5.40" height="5.43" fill="#287d8e"/>
<rect x="804.00" y="276.05" width="5.40" height="5.43" fill="#287d8e"/>
<rect x="809.00" y="276.05" width="5.40" height="5.43" fill="#287d8e"/>
<rect x="814.00" y="276.05" width="5.40" height="5.43" fill="#355f8d"/>
<rect x="819.00" y="276.05" width="5.40" height="5.43" fill="#472a79"/>
<rect x="824.00" y="276.05" width="5.40" height="5.43" fill="#472a79"/>
<rect x="829.00" y="276.05" width="5.40" height="5.43" fill="#355f8d"/>
<rect x="834.00" y="276.05" width="5.40" height="5.43" fill="#355f8d"/>
<rect x="839.00" y="276.05" width="5.40" height="5.43" fill="#472a79"/>
<rect x="744.00" y="281.07" width="5.40" height="5.43" fill="#287d8e"/>
<rect x="749.00" y="281.07" width="5.40" height="5.43" fill="#287d8e"/>
<rect x="754.00" y="281.07" width="5.40" height="5.43" fill="#472a79"/>
<rect x="759.00" y="281.07" width="5.40" height="5.43" fill="#287d8e"/>
<rect x="764.00" y="281.07" width="5.40" height="5.43" fill="#287d8e"/>
<rect x="769.00" y="281.07" width="5.40" height="5.43" fill="#287d8e"/>
<rect x="774.00" y="281.07" width="5.40" height="5.43" fill="#287d8e"/>
<rect x="779.00" y="281.07" width="5.40" height="5.43" fill="#472a79"/>
<rect x="784.00" y="281.07" width="5.40" height="5.43" fill="#355f8d"/>
<rect x="789.00" y="281.07" width="5.40" height="5.43" fill="#472a79"/>
<rect x="794.00" y="281.07" width="5.40" height="5.43" fill="#287d8e"/>
<rect x="799.00" y="281.07" width="5.40" height="5.43" fill="#21968a"/>
<rect x="804.00" y="281.07" width="5.40" height="5.43" fill="#287d8e"/>
<rect x="809.00" y="281.07" width="5.40" height="5.43" fill="#287d8e"/>
<rect x="814.00" y="281.07" width="5.40" height="5.43" fill="#472a79"/>
<rect x="819.00" y="281.07" width="5.40" height="5.43" fill="#472a79"/>
<rect x="824.00" y="281.07" width="5.40" height="5.43" fill="#355f8d"/>
<rect x="829.00" y="281.07" width="5.40" height="5.43" fill="#472a79"/>
<rect x="834.00" y="281.07" width="5.40" height="5.43" fill="#472a79"/>
<rect x="839.00" y="281.07" width="5.40" height="5.43" fill="#355f8d"/>
<rect x="744.00" y="286.10" width="5.40" height="5.43" fill="#287d8e"/>
<rect x="749.00" y="286.10" width="5.40" height="5.43" fill="#355f8d"/>
<rect x="754.00" y="286.10" width="5.40" height="5.43" fill="#287d8e"/>
<rect x="759.00" y="286.10" width="5.40" height="5.43" fill="#472a79"/>
<rect x="764.00" y="286.10" width="5.40" height="5.43" fill="#287d8e"/>
<rect x="769.00" y="286.10" width="5.40" height="5.43" fill="#355f8d"/>
<rect x="774.00" y="286.10" width="5.40" height="5.43" fill="#287d8e"/>
<rect x="779.00" y="286.10" width="5.40" height="5.43" fill="#355f8d"/>
<rect x="784.00" y="286.10" width="5.40" height="5.43" fill="#472a79"/>
<rect x="789.00" y="286.10" width="5.40" height="5.43" fill="#287d8e"/>
<rect x="794.00" y="286.10" width="5.40" height="5.43" fill="#287d8e"/>
<rect x="799.00" y="286.10" width="5.40" height="5.43" fill="#287d8e"/>
<rect x="804.00" y="286.10" width="5.40" height="5.43" fill="#287d8e"/>
<rect x="809.00" y="286.10" width="5.40" height="5.43" fill="#287d8e"/>
<rect x="814.00" y="286.10" width="5.40" height="5.43" fill="#287d8e"/>
<rect x="819.00" y="286.10" width="5.40" height="5.43" fill="#472a79"/>
<rect x="824.00" y="286.10" width="5.40" height="5.43" fill="#472a79"/>
<rect x="829.00" y="286.10" width="5.40" height="5.43" fill="#472a79"/>
<rect x="834.00" y="286.10" width="5.40" height="5.43" fill="#45085b"/>
<rect x="839.00" y="286.10" width="5.40" height="5.43" fill="#355f8d"/>
<rect x="744.00" y="291.12" width="5.40" height="5.43" fill="#287d8e"/>
<rect x="749.00" y="291.12" width="5.40" height="5.43" fill="#287d8e"/>
<rect x="754.00" y="291.12" width="5.40" height="5.43" fill="#21968a"/>
<rect x="759.00" y="291.12" width="5.40" height="5.43" fill="#45085b"/>
<rect x="764.00" y="291.12" width="5.40" height="5.43" fill="#287d8e"/>
<rect x="769.00" y="291.12" width="5.40" height="5.43" fill="#287d8e"/>
<rect x="774.00" y="291.12" width="5.40" height="5.43" fill="#21968a"/>
<rect x="779.00" y="291.12" width="5.40" height="5.43" fill="#21968a"/>
<rect x="784.00" y="291.12" width="5.40" height="5.43" fill="#355f8d"/>
<rect x="789.00" y="291.12" width="5.40" height="5.43" fill="#287d8e"/>
<rect x="794.00" y="291.12" width="5.40" height="5.43" fill="#287d8e"/>
<rect x="799.00" y="291.12" width="5.40" height="5.43" fill="#21968a"/>
<rect x="804.00" y="291.12" width="5.40" height="5.43" fill="#287d8e"/>
<rect x="809.00" y="291.12" width="5.40" height="5.43" fill="#287d8e"/>
<rect x="814.00" y="291.12" width="5.40" height="5.43" fill="#355f8d"/>
<rect x="819.00" y="291.12" width="5.40" height="5.43" fill="#472a79"/>
<rect x="824.00" y="291.12" width="5.40" height="5.43" fill="#472a79"/>
<rect x="829.00" y="291.12" width="5.40" height="5.43" fill="#45085b"/>
<rect x="834.00" y="291.12" width="5.40" height="5.43" fill="#472a79"/>
<rect x="839.00" y="291.12" width="5.40" height="5.43" fill="#287d8e"/>
<rect x="744.00" y="296.15" width="5.40" height="5.43" fill="#21968a"/>
<rect x="749.00" y="296.15" width="5.40" height="5.43" fill="#287d8e"/>
<rect x="754.00" y="296.15" width="5.40" height="5.43" fill="#21968a"/>
<rect x="759.00" y="296.15" width="5.40" height="5.43" fill="#45085b"/>
<rect x="764.00" y="296.15" width="5.40" height="5.43" fill="#355f8d"/>
<rect x="769.00" y="296.15" width="5.40" height="5.43" fill="#287d8e"/>
<rect x="774.00" y="296.15" width="5.40" height="5.43" fill="#4fc36a"/>
<rect x="779.00" y="296.15" width="5.40" height="5.43" fill="#4fc36a"/>
<rect x="784.00" y="296.15" width="5.40" height="5.43" fill="#4fc36a"/>
<rect x="789.00" y="296.15" width="5.40" height="5.43" fill="#29ad80"/>
<rect x="794.00" y="296.15" width="5.40" height="5.43" fill="#21968a"/>
<rect x="799.00" y="296.15" width="5.40" height="5.43" fill="#287d8e"/>
<rect x="804.00" y="296.15" width="5.40" height="5.43" fill="#21968a"/>
<rect x="809.00" y="296.15" width="5.40" height="5.43" fill="#287d8e"/>
<rect x="814.00" y="296.15" width="5.40" height="5.43" fill="#287d8e"/>
<rect x="819.00" y="296.15" width="5.40" height="5.43" fill="#355f8d"/>
<rect x="824.00" y="296.15" width="5.40" height="5.43" fill="#472a79"/>
<rect x="829.00" y="296.15" width="5.40" height="5.43" fill="#472a79"/>
<rect x="834.00" y="296.15" width="5.40" height="5.43" fill="#355f8d"/>
<rect x="839.00" y="296.15" width="5.40" height="5.43" fill="#287d8e"/>
<rect x="744.00" y="301.18" width="5.40" height="5.43" fill="#355f8d"/>
<rect x="749.00" y="301.18" width="5.40" height="5.43" fill="#472a79"/>
<rect x="754.00" y="301.18" width="5.40" height="5.43" fill="#472a79"/>
<rect x="759.00" y="301.18" width="5.40" height="5.43" fill="#45085b"/>
<rect x="764.00" y="301.18" width="5.40" height="5.43" fill="#21968a"/>
<rect x="769.00" y="301.18" width="5.40" height="5.43" fill="#4fc36a"/>
<rect x="774.00" y="301.18" width="5.40" height="5.43" fill="#87d448"/>
<rect x="779.00" y="301.18" width="5.40" height="5.43" fill="#87d448"/>
<rect x="784.00" y="301.18" width="5.40" height="5.43" fill="#4fc36a"/>
<rect x="789.00" y="301.18" width="5.40" height="5.43" fill="#4fc36a"/>
<rect x="794.00" y="301.18" width="5.40" height="5.43" fill="#21968a"/>
<rect x="799.00" y="301.18" width="5.40" height="5.43" fill="#21968a"/>
<rect x="804.00" y="301.18" width="5.40" height="5.43" fill="#287d8e"/>
<rect x="809.00" y="301.18" width="5.40" height="5.43" fill="#287d8e"/>
<rect x="814.00" y="301.18" width="5.40" height="5.43" fill="#287d8e"/>
<rect x="819.00" y="301.18" width="5.40" height="5.43" fill="#355f8d"/>
<rect x="824.00" y="301.18" width="5.40" height="5.43" fill="#472a79"/>
<rect x="829.00" y="301.18" width="5.40" height="5.43" fill="#355f8d"/>
<rect x="834.00" y="301.18" width="5.40" height="5.43" fill="#287d8e"/>
<rect x="839.00" y="301.18" width="5.40" height="5.43" fill="#287d8e"/>
<rect x="744.00" y="306.20" width="5.40" height="5.43" fill="#472a79"/>
<rect x="749.00" y="306.20" width="5.40" height="5.43" fill="#45085b"/>
<rect x="754.00" y="306.20" width="5.40" height="5.43" fill="#472a79"/>
<rect x="759.00" y="306.20" width="5.40" height="5.43" fill="#287d8e"/>
<rect x="764.00" y="306.20" width="5.40" height="5.43" fill="#29ad80"/>
<rect x="769.00" y="306.20" width="5.40" height="5.43" fill="#4fc36a"/>
<rect x="774.00" y="306.20" width="5.40" height="5.43" fill="#87d448"/>
<rect x="779.00" y="306.20" width="5.40" height="5.43" fill="#bddf26"/>
<rect x="784.00" y="306.20" width="5.40" height="5.43" fill="#4fc36a"/>
<rect x="789.00" y="306.20" width="5.40" height="5.43" fill="#29ad80"/>
<rect x="794.00" y="306.20" width="5.40" height="5.43" fill="#21968a"/>
<rect x="799.00" y="306.20" width="5.40" height="5.43" fill="#21968a"/>
<rect x="804.00" y="306.20" width="5.40" height="5.43" fill="#287d8e"/>
<rect x="809.00" y="306.20" width="5.40" height="5.43" fill="#287d8e"/>
<rect x="814.00" y="306.20" width="5.40" height="5.43" fill="#287d8e"/>
<rect x="819.00" y="306.20" width="5.40" height="5.43" fill="#355f8d"/>
<rect x="824.00" y="306.20" width="5.40" height="5.43" fill="#355f8d"/>
<rect x="829.00" y="306.20" width="5.40" height="5.43" fill="#355f8d"/>
<rect x="834.00" y="306.20" width="5.40" height="5.43" fill="#287d8e"/>
<rect x="839.00" y="306.20" width="5.40" height="5.43" fill="#287d8e"/>
<rect x="744.00" y="311.23" width="5.40" height="5.43" fill="#45085b"/>
<rect x="749.00" y="311.23" width="5.40" height="5.43" fill="#45085b"/>
<rect x="754.00" y="311.23" width="5.40" height="5.43" fill="#355f8d"/>
<rect x="759.00" y="311.23" width="5.40" height="5.43" fill="#21968a"/>
<rect x="764.00" y="311.23" width="5.40" height="5.43" fill="#4fc36a"/>
<rect x="769.00" y="311.23" width="5.40" height="5.43" fill="#4fc36a"/>
<rect x="774.00" y="311.23" width="5.40" height="5.43" fill="#87d448"/>
<rect x="779.00" y="311.23" width="5.40" height="5.43" fill="#87d448"/>
<rect x="784.00" y="311.23" width="5.40" height="5.43" fill="#29ad80"/>
<rect x="789.00" y="311.23" width="5.40" height="5.43" fill="#21968a"/>
<rect x="794.00" y="311.23" width="5.40" height="5.43" fill="#21968a"/>
<rect x="799.00" y="311.23" width="5.40" height="5.43" fill="#287d8e"/>
<rect x="804.00" y="311.23" width="5.40" height="5.43" fill="#21968a"/>
<rect x="809.00" y="311.23" width="5.40" height="5.43" fill="#287d8e"/>
<rect x="814.00" y="311.23" width="5.40" height="5.43" fill="#287d8e"/>
<rect x="819.00" y="311.23" width="5.40" height="5.43" fill="#4fc36a"/>
<rect x="824.00" y="311.23" width="5.40" height="5.43" fill="#29ad80"/>
<rect x="829.00" y="311.23" width="5.40" height="5.43" fill="#287d8e"/>
<rect x="834.00" y="311.23" width="5.40" height="5.43" fill="#287d8e"/>
<rect x="839.00" y="311.23" width="5.40" height="5.43" fill="#287d8e"/>
<rect x="744.00" y="316.25" width="5.40" height="5.43" fill="#45085b"/>
<rect x="749.00" y="316.25" width="5.40" height="5.43" fill="#472a79"/>
<rect x="754.00" y="316.25" width="5.40" height="5.43" fill="#287d8e"/>
<rect x="759.00" y="316.25" width="5.40" height="5.43" fill="#21968a"/>
<rect x="764.00" y="316.25" width="5.40" height="5.43" fill="#29ad80"/>
<rect x="769.00" y="316.25" width="5.40" height="5.43" fill="#4fc36a"/>
<rect x="774.00" y="316.25" width="5.40" height="5.43" fill="#87d448"/>
<rect x="779.00" y="316.25" width="5.40" height="5.43" fill="#29ad80"/>
<rect x="784.00" y="316.25" width="5.40" height="5.43" fill="#29ad80"/>
<rect x="789.00" y="316.25" width="5.40" height="5.43" fill="#29ad80"/>
<rect x="794.00" y="316.25" width="5.40" height="5.43" fill="#21968a"/>
<rect x="799.00" y="316.25" width="5.40" height="5.43" fill="#21968a"/>
<rect x="804.00" y="316.25" width="5.40" height="5.43" fill="#287d8e"/>
<rect x="809.00" y="316.25" width="5.40" height="5.43" fill="#287d8e"/>
<rect x="814.00" y="316.25" width="5.40" height="5.43" fill="#287d8e"/>
<rect x="819.00" y="316.25" width="5.40" height="5.43" fill="#287d8e"/>
<rect x="824.00" y="316.25" width="5.40" height="5.43" fill="#287d8e"/>
<rect x="829.00" y="316.25" width="5.40" height="5.43" fill="#355f8d"/>
<rect x="834.00" y="316.25" width="5.40" height="5.43" fill="#355f8d"/>
<rect x="839.00" y="316.25" width="5.40" height="5.43" fill="#472a79"/>
<rect x="744.00" y="321.27" width="5.40" height="5.43" fill="#472a79"/>
<rect x="749.00" y="321.27" width="5.40" height="5.43" fill="#355f8d"/>
<rect x="754.00" y="321.27" width="5.40" height="5.43" fill="#287d8e"/>
<rect x="759.00" y="321.27" width="5.40" height="5.43" fill="#21968a"/>
<rect x="764.00" y="321.27" width="5.40" height="5.43" fill="#21968a"/>
<rect x="769.00" y="321.27" width="5.40" height="5.43" fill="#29ad80"/>
<rect x="774.00" y="321.27" width="5.40" height="5.43" fill="#29ad80"/>
<rect x="779.00" y="321.27" width="5.40" height="5.43" fill="#29ad80"/>
<rect x="784.00" y="321.27" width="5.40" height="5.43" fill="#21968a"/>
<rect x="789.00" y="321.27" width="5.40" height="5.43" fill="#21968a"/>
<rect x="794.00" y="321.27" width="5.40" height="5.43" fill="#21968a"/>
<rect x="799.00" y="321.27" width="5.40" height="5.43" fill="#287d8e"/>
<rect x="804.00" y="321.27" width="5.40" height="5.43" fill="#287d8e"/>
<rect x="809.00" y="321.27" width="5.40" height="5.43" fill="#287d8e"/>
<rect x="814.00" y="321.27" width="5.40" height="5.43" fill="#287d8e"/>
<rect x="819.00" y="321.27" width="5.40" height="5.43" fill="#355f8d"/>
<rect x="824.00" y="321.27" width="5.40" height="5.43" fill="#355f8d"/>
<rect x="829.00" y="321.27" width="5.40" height="5.43" fill="#87d448"/>
<rect x="834.00" y="321.27" width="5.40" height="5.43" fill="#355f8d"/>
<rect x="839.00" y="321.27" width="5.40" height="5.43" fill="#472a79"/>
<rect x="744.00" y="326.30" width="5.40" height="5.43" fill="#355f8d"/>
<rect x="749.00" y="326.30" width="5.40" height="5.43" fill="#287d8e"/>
<rect x="754.00" y="326.30" width="5.40" height="5.43" fill="#287d8e"/>
<rect x="759.00" y="326.30" width="5.40" height="5.43" fill="#287d8e"/>
<rect x="764.00" y="326.30" width="5.40" height="5.43" fill="#21968a"/>
<rect x="769.00" y="326.30" width="5.40" height="5.43" fill="#21968a"/>
<rect x="774.00" y="326.30" width="5.40" height="5.43" fill="#21968a"/>
<rect x="779.00" y="326.30" width="5.40" height="5.43" fill="#21968a"/>
<rect x="784.00" y="326.30" width="5.40" height="5.43" fill="#21968a"/>
<rect x="789.00" y="326.30" width="5.40" height="5.43" fill="#287d8e"/>
<rect x="794.00" y="326.30" width="5.40" height="5.43" fill="#21968a"/>
<rect x="799.00" y="326.30" width="5.40" height="5.43" fill="#287d8e"/>
<rect x="804.00" y="326.30" width="5.40" height="5.43" fill="#287d8e"/>
<rect x="809.00" y="326.30" width="5.40" height="5.43" fill="#287d8e"/>
<rect x="814.00" y="326.30" width="5.40" height="5.43" fill="#287d8e"/>
<rect x="819.00" y="326.30" width="5.40" height="5.43" fill="#287d8e"/>
<rect x="824.00" y="326.30" width="5.40" height="5.43" fill="#355f8d"/>
<rect x="829.00" y="326.30" width="5.40" height="5.43" fill="#355f8d"/>
<rect x="834.00" y="326.30" width="5.40" height="5.43" fill="#472a79"/>
<rect x="839.00" y="326.30" width="5.40" height="5.43" fill="#472a79"/>
<rect x="744.00" y="331.32" width="5.40" height="5.43" fill="#287d8e"/>
<rect x="749.00" y="331.32" width="5.40" height="5.43" fill="#287d8e"/>
<rect x="754.00" y="331.32" width="5.40" height="5.43" fill="#4fc36a"/>
<rect x="759.00" y="331.32" width="5.40" height="5.43" fill="#dde326"/>
<rect x="764.00" y="331.32" width="5.40" height="5.43" fill="#21968a"/>
<rect x="769.00" y="331.32" width="5.40" height="5.43" fill="#287d8e"/>
<rect x="774.00" y="331.32" width="5.40" height="5.43" fill="#287d8e"/>
<rect x="779.00" y="331.32" width="5.40" height="5.43" fill="#287d8e"/>
<rect x="784.00" y="331.32" width="5.40" height="5.43" fill="#287d8e"/>
<rect x="789.00" y="331.32" width="5.40" height="5.43" fill="#287d8e"/>
<rect x="794.00" y="331.32" width="5.40" height="5.43" fill="#287d8e"/>
<rect x="799.00" y="331.32" width="5.40" height="5.43" fill="#287d8e"/>
<rect x="804.00" y="331.32" width="5.40" height="5.43" fill="#287d8e"/>
<rect x="809.00" y="331.32" width="5.40" height="5.43" fill="#287d8e"/>
<rect x="814.00" y="331.32" width="5.40" height="5.43" fill="#355f8d"/>
<rect x="819.00" y="331.32" width="5.40" height="5.43" fill="#287d8e"/>
<rect x="824.00" y="331.32" width="5.40" height="5.43" fill="#21968a"/>
<rect x="829.00" y="331.32" width="5.40" height="5.43" fill="#bddf26"/>
<rect x="834.00" y="331.32" width="5.40" height="5.43" fill="#87d448"/>
<rect x="839.00" y="331.32" width="5.40" height="5.43" fill="#355f8d"/>
<rect x="744.00" y="336.35" width="5.40" height="5.43" fill="#287d8e"/>
<rect x="749.00" y="336.35" width="5.40" height="5.43" fill="#4fc36a"/>
<rect x="754.00" y="336.35" width="5.40" height="5.43" fill="#dde326"/>
<rect x="759.00" y="336.35" width="5.40" height="5.43" fill="#bddf26"/>
<rect x="764.00" y="336.35" width="5.40" height="5.43" fill="#287d8e"/>
<rect x="769.00" y="336.35" width="5.40" height="5.43" fill="#287d8e"/>
<rect x="774.00" y="336.35" width="5.40" height="5.43" fill="#287d8e"/>
<rect x="779.00" y="336.35" width="5.40" height="5.43" fill="#355f8d"/>
<rect x="784.00" y="336.35" width="5.40" height="5.43" fill="#287d8e"/>
<rect x="789.00" y="336.35" width="5.40" height="5.43" fill="#355f8d"/>
<rect x="794.00" y="336.35" width="5.40" height="5.43" fill="#287d8e"/>
<rect x="799.00" y="336.35" width="5.40" height="5.43" fill="#287d8e"/>
<rect x="804.00" y="336.35" width="5.40" height="5.43" fill="#287d8e"/>
<rect x="809.00" y="336.35" width="5.40" height="5.43" fill="#287d8e"/>
<rect x="814.00" y="336.35" width="5.40" height="5.43" fill="#287d8e"/>
<rect x="819.00" y="336.35" width="5.40" height="5.43" fill="#355f8d"/>
<rect x="824.00" y="336.35" width="5.40" height="5.43" fill="#dde326"/>
<rect x="829.00" y="336.35" width="5.40" height="5.43" fill="#dde326"/>
<rect x="834.00" y="336.35" width="5.40" height="5.43" fill="#bddf26"/>
<rect x="839.00" y="336.35" width="5.40" height="5.43" fill="#87d448"/>
<rect x="744.00" y="341.38" width="5.40" height="5.43" fill="#287d8e"/>
<rect x="749.00" y="341.38" width="5.40" height="5.43" fill="#355f8d"/>
<rect x="754.00" y="341.38" width="5.40" height="5.43" fill="#355f8d"/>
<rect x="759.00" y="341.38" width="5.40" height="5.43" fill="#287d8e"/>
<rect x="764.00" y="341.38" width="5.40" height="5.43" fill="#355f8d"/>
<rect x="769.00" y="341.38" width="5.40" height="5.43" fill="#287d8e"/>
<rect x="774.00" y="341.38" width="5.40" height="5.43" fill="#355f8d"/>
<rect x="779.00" y="341.38" width="5.40" height="5.43" fill="#355f8d"/>
<rect x="784.00" y="341.38" width="5.40" height="5.43" fill="#355f8d"/>
<rect x="789.00" y="341.38" width="5.40" height="5.43" fill="#287d8e"/>
<rect x="794.00" y="341.38" width="5.40" height="5.43" fill="#355f8d"/>
<rect x="799.00" y="341.38" width="5.40" height="5.43" fill="#472a79"/>
<rect x="804.00" y="341.38" width="5.40" height="5.43" fill="#355f8d"/>
<rect x="809.00" y="341.38" width="5.40" height="5.43" fill="#287d8e"/>
<rect x="814.00" y="341.38" width="5.40" height="5.43" fill="#355f8d"/>
<rect x="819.00" y="341.38" width="5.40" height="5.43" fill="#287d8e"/>
<rect x="824.00" y="341.38" width="5.40" height="5.43" fill="#dde326"/>
<rect x="829.00" y="341.38" width="5.40" height="5.43" fill="#bddf26"/>
<rect x="834.00" y="341.38" width="5.40" height="5.43" fill="#355f8d"/>
<rect x="839.00" y="341.38" width="5.40" height="5.43" fill="#472a79"/>
<rect x="744.00" y="346.40" width="5.40" height="5.43" fill="#472a79"/>
<rect x="749.00" y="346.40" width="5.40" height="5.43" fill="#355f8d"/>
<rect x="754.00" y="346.40" width="5.40" height="5.43" fill="#472a79"/>
<rect x="759.00" y="346.40" width="5.40" height="5.43" fill="#472a79"/>
<rect x="764.00" y="346.40" width="5.40" height="5.43" fill="#355f8d"/>
<rect x="769.00" y="346.40" width="5.40" height="5.43" fill="#355f8d"/>
<rect x="774.00" y="346.40" width="5.40" height="5.43" fill="#472a79"/>
<rect x="779.00" y="346.40" width="5.40" height="5.43" fill="#355f8d"/>
<rect x="784.00" y="346.40" width="5.40" height="5.43" fill="#355f8d"/>
<rect x="789.00" y="346.40" width="5.40" height="5.43" fill="#472a79"/>
<rect x="794.00" y="346.40" width="5.40" height="5.43" fill="#287d8e"/>
<rect x="799.00" y="346.40" width="5.40" height="5.43" fill="#355f8d"/>
<rect x="804.00" y="346.40" width="5.40" height="5.43" fill="#355f8d"/>
<rect x="809.00" y="346.40" width="5.40" height="5.43" fill="#472a79"/>
<rect x="814.00" y="346.40" width="5.40" height="5.43" fill="#355f8d"/>
<rect x="819.00" y="346.40" width="5.40" height="5.43" fill="#bddf26"/>
<rect x="824.00" y="346.40" width="5.40" height="5.43" fill="#dde326"/>
<rect x="829.00" y="346.40" width="5.40" height="5.43" fill="#472a79"/>
<rect x="834.00" y="346.40" width="5.40" height="5.43" fill="#472a79"/>
<rect x="839.00" y="346.40" width="5.40" height="5.43" fill="#472a79"/>
<rect x="744.00" y="351.43" width="5.40" height="5.43" fill="#472a79"/>
<rect x="749.00" y="351.43" width="5.40" height="5.43" fill="#472a79"/>
<rect x="754.00" y="351.43" width="5.40" height="5.43" fill="#472a79"/>
<rect x="759.00" y="351.43" width="5.40" height="5.43" fill="#355f8d"/>
<rect x="764.00" y="351.43" width="5.40" height="5.43" fill="#355f8d"/>
<rect x="769.00" y="351.43" width="5.40" height="5.43" fill="#472a79"/>
<rect x="774.00" y="351.43" width="5.40" height="5.43" fill="#355f8d"/>
<rect x="779.00" y="351.43" width="5.40" height="5.43" fill="#355f8d"/>
<rect x="784.00" y="351.43" width="5.40" height="5.43" fill="#355f8d"/>
<rect x="789.00" y="351.43" width="5.40" height="5.43" fill="#472a79"/>
<rect x="794.00" y="351.43" width="5.40" height="5.43" fill="#472a79"/>
<rect x="799.00" y="351.43" width="5.40" height="5.43" fill="#472a79"/>
<rect x="804.00" y="351.43" width="5.40" height="5.43" fill="#472a79"/>
<rect x="809.00" y="351.43" width="5.40" height="5.43" fill="#355f8d"/>
<rect x="814.00" y="351.43" width="5.40" height="5.43" fill="#355f8d"/>
<rect x="819.00" y="351.43" width="5.40" height="5.43" fill="#dde326"/>
<rect x="824.00" y="351.43" width="5.40" height="5.43" fill="#dde326"/>
<rect x="829.00" y="351.43" width="5.40" height="5.43" fill="#4fc36a"/>
<rect x="834.00" y="351.43" width="5.40" height="5.43" fill="#472a79"/>
<rect x="839.00" y="351.43" width="5.40" height="5.43" fill="#287d8e"/>
<rect x="744.00" y="356.45" width="5.40" height="5.43" fill="#45085b"/>
<rect x="749.00" y="356.45" width="5.40" height="5.43" fill="#472a79"/>
<rect x="754.00" y="356.45" width="5.40" height="5.43" fill="#355f8d"/>
<rect x="759.00" y="356.45" width="5.40" height="5.43" fill="#472a79"/>
<rect x="764.00" y="356.45" width="5.40" height="5.43" fill="#355f8d"/>
<rect x="769.00" y="356.45" width="5.40" height="5.43" fill="#4fc36a"/>
<rect x="774.00" y="356.45" width="5.40" height="5.43" fill="#355f8d"/>
<rect x="779.00" y="356.45" width="5.40" height="5.43" fill="#355f8d"/>
<rect x="784.00" y="356.45" width="5.40" height="5.43" fill="#21968a"/>
<rect x="789.00" y="356.45" width="5.40" height="5.43" fill="#355f8d"/>
<rect x="794.00" y="356.45" width="5.40" height="5.43" fill="#472a79"/>
<rect x="799.00" y="356.45" width="5.40" height="5.43" fill="#287d8e"/>
<rect x="804.00" y="356.45" width="5.40" height="5.43" fill="#87d448"/>
<rect x="809.00" y="356.45" width="5.40" height="5.43" fill="#355f8d"/>
<rect x="814.00" y="356.45" width="5.40" height="5.43" fill="#287d8e"/>
<rect x="819.00" y="356.45" width="5.40" height="5.43" fill="#355f8d"/>
<rect x="824.00" y="356.45" width="5.40" height="5.43" fill="#29ad80"/>
<rect x="829.00" y="356.45" width="5.40" height="5.43" fill="#287d8e"/>
<rect x="834.00" y="356.45" width="5.40" height="5.43" fill="#287d8e"/>
<rect x="839.00" y="356.45" width="5.40" height="5.43" fill="#287d8e"/>
<rect x="744.00" y="361.48" width="5.40" height="5.43" fill="#472a79"/>
<rect x="749.00" y="361.48" width="5.40" height="5.43" fill="#472a79"/>
<rect x="754.00" y="361.48" width="5.40" height="5.43" fill="#472a79"/>
<rect x="759.00" y="361.48" width="5.40" height="5.43" fill="#355f8d"/>
<rect x="764.00" y="361.48" width="5.40" height="5.43" fill="#355f8d"/>
<rect x="769.00" y="361.48" width="5.40" height="5.43" fill="#355f8d"/>
<rect x="774.00" y="361.48" width="5.40" height="5.43" fill="#472a79"/>
<rect x="779.00" y="361.48" width="5.40" height="5.43" fill="#355f8d"/>
<rect x="784.00" y="361.48" width="5.40" height="5.43" fill="#dde326"/>
<rect x="789.00" y="361.48" width="5.40" height="5.43" fill="#dde326"/>
<rect x="794.00" y="361.48" width="5.40" height="5.43" fill="#287d8e"/>
<rect x="799.00" y="361.48" width="5.40" height="5.43" fill="#355f8d"/>
<rect x="804.00" y="361.48" width="5.40" height="5.43" fill="#355f8d"/>
<rect x="809.00" y="361.48" width="5.40" height="5.43" fill="#355f8d"/>
<rect x="814.00" y="361.48" width="5.40" height="5.43" fill="#287d8e"/>
<rect x="819.00" y="361.48" width="5.40" height="5.43" fill="#287d8e"/>
<rect x="824.00" y="361.48" width="5.40" height="5.43" fill="#21968a"/>
<rect x="829.00" y="361.48" width="5.40" height="5.43" fill="#287d8e"/>
<rect x="834.00" y="361.48" width="5.40" height="5.43" fill="#287d8e"/>
<rect x="839.00" y="361.48" width="5.40" height="5.43" fill="#287d8e"/>
</g></g>
<text x="773.3" y="252.8" font-size="27" text-anchor="start" font-weight="normal" font-style="italic" fill="#000" >P</text>
<text x="787.5" y="260" font-size="16" text-anchor="start" font-weight="normal" font-style="italic" fill="#000" >vv</text>
<text x="716.5" y="395" font-size="30.5" text-anchor="middle" font-weight="normal" font-style="normal" fill="#000" >VVP</text>
<path d="M844,316 L919.3,316" fill="none" stroke="#000" stroke-width="2" />
<path d="M919.3,403.2 L919.3,92.3" fill="none" stroke="#000" stroke-width="2" />
<path d="M926.1,105.8 L919.3,92.3 L912.5,105.8" fill="none" stroke="#000" stroke-width="2" stroke-linejoin="miter"/>
<path d="M344,384 L344,455 L462,455" fill="none" stroke="#000" stroke-width="2" />
<path d="M448.5,461.8 L462,455 L448.5,448.2" fill="none" stroke="#000" stroke-width="2" stroke-linejoin="miter"/>
<path d="M376.5,384 L376.5,412 L801.6,412 L801.6,495" fill="none" stroke="#000" stroke-width="2.7" stroke-dasharray="5.8 4.8" />
<path d="M794.6,482.0 L801.6,495 L808.6,482.0" fill="none" stroke="#000" stroke-width="2.7" stroke-linejoin="miter"/>
<path d="M731.5,463 L731.5,424 L360.2,424 L360.2,385" fill="none" stroke="#b67c61" stroke-width="2.5" />
<path d="M367.2,397.0 L360.2,385 L353.2,397.0" fill="none" stroke="#b67c61" stroke-width="2.5" stroke-linejoin="miter"/>
<path d="M462.6,449.3 L466.90000000000003,445.0 L533.0,445.0 L528.7,449.3 Z" fill="#e6e6e6" stroke="#7f7f7f" stroke-width="2" stroke-linejoin="round"/>
<path d="M528.7,449.3 L533.0,445.0 L533.0,457.3 L528.7,461.6 Z" fill="#bdbdbd" stroke="#7f7f7f" stroke-width="2" stroke-linejoin="round"/>
<rect x="462.6" y="449.3" width="66.10000000000002" height="12.300000000000011" fill="#d9d9d9" stroke="#7f7f7f" stroke-width="2"/>
<text x="486.5" y="481.4" font-size="28" text-anchor="start" font-weight="normal" font-style="italic" fill="#000" stroke="#000" stroke-width="0.5">v</text>
<text x="496.8" y="488.3" font-size="17" text-anchor="start" font-weight="normal" font-style="italic" fill="#000" >q</text>
<path d="M528.7,455 L567.5,455 L567.5,478.5" fill="none" stroke="#000" stroke-width="2" />
<path d="M560.7,465.0 L567.5,478.5 L574.3,465.0" fill="none" stroke="#000" stroke-width="2" stroke-linejoin="miter"/>
<circle cx="567.3" cy="491" r="12.5" fill="none" stroke="#000" stroke-width="2"/>
<text x="567.3" y="497.5" font-size="17" text-anchor="middle" font-weight="bold" font-style="normal" fill="#000" >C</text>
<path d="M580,491 L602,491" fill="none" stroke="#000" stroke-width="2" />
<path d="M588.5,497.8 L602,491 L588.5,484.2" fill="none" stroke="#000" stroke-width="2" stroke-linejoin="miter"/>
<rect x="436" y="525" width="117.5" height="69.5" rx="12" fill="none" stroke="#000" stroke-width="2"/>
<path d="M442,536.7 L446.1,532.6 L511.6,532.6 L507.5,536.7 Z" fill="#f4a06c" stroke="#c55a11" stroke-width="1.6" stroke-linejoin="round"/>
<path d="M507.5,536.7 L511.6,532.6 L511.6,545.6 L507.5,549.7 Z" fill="#d06a2c" stroke="#c55a11" stroke-width="1.6" stroke-linejoin="round"/>
<rect x="442" y="536.7" width="65.5" height="13.0" fill="#f08a4b" stroke="#c55a11" stroke-width="1.6"/>
<path d="M441.2,572.2 L445.3,568.1 L510.20000000000005,568.1 L506.1,572.2 Z" fill="#c0e0aa" stroke="#70ad47" stroke-width="1.6" stroke-linejoin="round"/>
<path d="M506.1,572.2 L510.20000000000005,568.1 L510.20000000000005,581.3 L506.1,585.4 Z" fill="#8fc070" stroke="#70ad47" stroke-width="1.6" stroke-linejoin="round"/>
<rect x="441.2" y="572.2" width="64.90000000000003" height="13.199999999999932" fill="#a9d18e" stroke="#70ad47" stroke-width="1.6"/>
<text x="517.3" y="550" font-size="26" text-anchor="start" font-weight="normal" font-style="italic" fill="#000" >F</text>
<text x="538.1" y="539.3" font-size="17" text-anchor="start" font-weight="normal" font-style="italic" fill="#000" >t</text>
<text x="533.2" y="557.6" font-size="17" text-anchor="start" font-weight="normal" font-style="italic" fill="#000" >f</text>
<text x="517.3" y="584.3" font-size="26" text-anchor="start" font-weight="normal" font-style="italic" fill="#000" >F</text>
<text x="538.1" y="573.6" font-size="17" text-anchor="start" font-weight="normal" font-style="italic" fill="#000" >t</text>
<text x="532.1" y="591.8" font-size="14" text-anchor="start" font-weight="normal" font-style="italic" fill="#000" >b</text>
<path d="M553.5,560 L567.3,560 L567.3,503.5" fill="none" stroke="#000" stroke-width="2" />
<path d="M574.1,517.0 L567.3,503.5 L560.5,517.0" fill="none" stroke="#000" stroke-width="2" stroke-linejoin="miter"/>
<rect x="602.5" y="463.5" width="26.5" height="56" rx="5" fill="#fff" stroke="#000" stroke-width="2"/>
<rect x="605" y="468" width="21.8" height="21.2" fill="#ed7d31"/>
<rect x="605" y="492.5" width="21.8" height="21.2" fill="#70ad47"/>
<path d="M629,490.8 L717.5,490.8" fill="none" stroke="#000" stroke-width="2" />
<path d="M704.0,497.6 L717.5,490.8 L704.0,484.0" fill="none" stroke="#000" stroke-width="2" stroke-linejoin="miter"/>
<text x="669" y="483.5" font-size="21" text-anchor="middle" font-weight="normal" font-style="normal" fill="#000" >softmax</text>
<rect x="718" y="463.5" width="26.3" height="56" rx="5" fill="#fff" stroke="#000" stroke-width="2"/>
<rect x="720.5" y="468" width="21.8" height="21.2" fill="#e0590f"/>
<rect x="720.5" y="492.5" width="21.8" height="21.2" fill="#d3e6c6"/>
<text x="722.8" y="539.6" font-size="21" text-anchor="start" font-weight="normal" font-style="italic" fill="#000" >S</text>
<text x="734" y="545" font-size="13" text-anchor="start" font-weight="normal" font-style="italic" fill="#000" >i</text>
<g clip-path="url(#cvt)"><g filter="url(#bl07)">
<rect x="751.00" y="495.00" width="5.45" height="5.42" fill="#440154"/>
<rect x="756.05" y="495.00" width="5.45" height="5.42" fill="#440154"/>
<rect x="761.10" y="495.00" width="5.45" height="5.42" fill="#440154"/>
<rect x="766.15" y="495.00" width="5.45" height="5.42" fill="#440154"/>
<rect x="771.20" y="495.00" width="5.45" height="5.42" fill="#440154"/>
<rect x="776.25" y="495.00" width="5.45" height="5.42" fill="#440154"/>
<rect x="781.30" y="495.00" width="5.45" height="5.42" fill="#440154"/>
<rect x="786.35" y="495.00" width="5.45" height="5.42" fill="#440154"/>
<rect x="791.40" y="495.00" width="5.45" height="5.42" fill="#440154"/>
<rect x="796.45" y="495.00" width="5.45" height="5.42" fill="#440154"/>
<rect x="801.50" y="495.00" width="5.45" height="5.42" fill="#440154"/>
<rect x="806.55" y="495.00" width="5.45" height="5.42" fill="#440154"/>
<rect x="811.60" y="495.00" width="5.45" height="5.42" fill="#440154"/>
<rect x="816.65" y="495.00" width="5.45" height="5.42" fill="#440154"/>
<rect x="821.70" y="495.00" width="5.45" height="5.42" fill="#440154"/>
<rect x="826.75" y="495.00" width="5.45" height="5.42" fill="#440154"/>
<rect x="831.80" y="495.00" width="5.45" height="5.42" fill="#440154"/>
<rect x="836.85" y="495.00" width="5.45" height="5.42" fill="#440154"/>
<rect x="841.90" y="495.00" width="5.45" height="5.42" fill="#440154"/>
<rect x="846.95" y="495.00" width="5.45" height="5.42" fill="#440154"/>
<rect x="751.00" y="500.01" width="5.45" height="5.42" fill="#440154"/>
<rect x="756.05" y="500.01" width="5.45" height="5.42" fill="#440154"/>
<rect x="761.10" y="500.01" width="5.45" height="5.42" fill="#440154"/>
<rect x="766.15" y="500.01" width="5.45" height="5.42" fill="#440154"/>
<rect x="771.20" y="500.01" width="5.45" height="5.42" fill="#440154"/>
<rect x="776.25" y="500.01" width="5.45" height="5.42" fill="#440154"/>
<rect x="781.30" y="500.01" width="5.45" height="5.42" fill="#440154"/>
<rect x="786.35" y="500.01" width="5.45" height="5.42" fill="#440154"/>
<rect x="791.40" y="500.01" width="5.45" height="5.42" fill="#440154"/>
<rect x="796.45" y="500.01" width="5.45" height="5.42" fill="#440154"/>
<rect x="801.50" y="500.01" width="5.45" height="5.42" fill="#440154"/>
<rect x="806.55" y="500.01" width="5.45" height="5.42" fill="#4fc36a"/>
<rect x="811.60" y="500.01" width="5.45" height="5.42" fill="#7ad151"/>
<rect x="816.65" y="500.01" width="5.45" height="5.42" fill="#7ad151"/>
<rect x="821.70" y="500.01" width="5.45" height="5.42" fill="#440154"/>
<rect x="826.75" y="500.01" width="5.45" height="5.42" fill="#440154"/>
<rect x="831.80" y="500.01" width="5.45" height="5.42" fill="#440154"/>
<rect x="836.85" y="500.01" width="5.45" height="5.42" fill="#440154"/>
<rect x="841.90" y="500.01" width="5.45" height="5.42" fill="#440154"/>
<rect x="846.95" y="500.01" width="5.45" height="5.42" fill="#440154"/>
<rect x="751.00" y="505.03" width="5.45" height="5.42" fill="#440154"/>
<rect x="756.05" y="505.03" width="5.45" height="5.42" fill="#440154"/>
<rect x="761.10" y="505.03" width="5.45" height="5.42" fill="#440154"/>
<rect x="766.15" y="505.03" width="5.45" height="5.42" fill="#440154"/>
<rect x="771.20" y="505.03" width="5.45" height="5.42" fill="#440154"/>
<rect x="776.25" y="505.03" width="5.45" height="5.42" fill="#440154"/>
<rect x="781.30" y="505.03" width="5.45" height="5.42" fill="#440154"/>
<rect x="786.35" y="505.03" width="5.45" height="5.42" fill="#440154"/>
<rect x="791.40" y="505.03" width="5.45" height="5.42" fill="#238c8c"/>
<rect x="796.45" y="505.03" width="5.45" height="5.42" fill="#440154"/>
<rect x="801.50" y="505.03" width="5.45" height="5.42" fill="#440154"/>
<rect x="806.55" y="505.03" width="5.45" height="5.42" fill="#4fc36a"/>
<rect x="811.60" y="505.03" width="5.45" height="5.42" fill="#4fc36a"/>
<rect x="816.65" y="505.03" width="5.45" height="5.42" fill="#7ad151"/>
<rect x="821.70" y="505.03" width="5.45" height="5.42" fill="#440154"/>
<rect x="826.75" y="505.03" width="5.45" height="5.42" fill="#440154"/>
<rect x="831.80" y="505.03" width="5.45" height="5.42" fill="#440154"/>
<rect x="836.85" y="505.03" width="5.45" height="5.42" fill="#440154"/>
<rect x="841.90" y="505.03" width="5.45" height="5.42" fill="#440154"/>
<rect x="846.95" y="505.03" width="5.45" height="5.42" fill="#440154"/>
<rect x="751.00" y="510.05" width="5.45" height="5.42" fill="#440154"/>
<rect x="756.05" y="510.05" width="5.45" height="5.42" fill="#440154"/>
<rect x="761.10" y="510.05" width="5.45" height="5.42" fill="#440154"/>
<rect x="766.15" y="510.05" width="5.45" height="5.42" fill="#440154"/>
<rect x="771.20" y="510.05" width="5.45" height="5.42" fill="#440154"/>
<rect x="776.25" y="510.05" width="5.45" height="5.42" fill="#440154"/>
<rect x="781.30" y="510.05" width="5.45" height="5.42" fill="#440154"/>
<rect x="786.35" y="510.05" width="5.45" height="5.42" fill="#238c8c"/>
<rect x="791.40" y="510.05" width="5.45" height="5.42" fill="#238c8c"/>
<rect x="796.45" y="510.05" width="5.45" height="5.42" fill="#238c8c"/>
<rect x="801.50" y="510.05" width="5.45" height="5.42" fill="#4fc36a"/>
<rect x="806.55" y="510.05" width="5.45" height="5.42" fill="#4fc36a"/>
<rect x="811.60" y="510.05" width="5.45" height="5.42" fill="#29ad80"/>
<rect x="816.65" y="510.05" width="5.45" height="5.42" fill="#4fc36a"/>
<rect x="821.70" y="510.05" width="5.45" height="5.42" fill="#29ad80"/>
<rect x="826.75" y="510.05" width="5.45" height="5.42" fill="#440154"/>
<rect x="831.80" y="510.05" width="5.45" height="5.42" fill="#440154"/>
<rect x="836.85" y="510.05" width="5.45" height="5.42" fill="#440154"/>
<rect x="841.90" y="510.05" width="5.45" height="5.42" fill="#440154"/>
<rect x="846.95" y="510.05" width="5.45" height="5.42" fill="#440154"/>
<rect x="751.00" y="515.06" width="5.45" height="5.42" fill="#440154"/>
<rect x="756.05" y="515.06" width="5.45" height="5.42" fill="#440154"/>
<rect x="761.10" y="515.06" width="5.45" height="5.42" fill="#440154"/>
<rect x="766.15" y="515.06" width="5.45" height="5.42" fill="#440154"/>
<rect x="771.20" y="515.06" width="5.45" height="5.42" fill="#440154"/>
<rect x="776.25" y="515.06" width="5.45" height="5.42" fill="#440154"/>
<rect x="781.30" y="515.06" width="5.45" height="5.42" fill="#440154"/>
<rect x="786.35" y="515.06" width="5.45" height="5.42" fill="#440154"/>
<rect x="791.40" y="515.06" width="5.45" height="5.42" fill="#440154"/>
<rect x="796.45" y="515.06" width="5.45" height="5.42" fill="#440154"/>
<rect x="801.50" y="515.06" width="5.45" height="5.42" fill="#4fc36a"/>
<rect x="806.55" y="515.06" width="5.45" height="5.42" fill="#29ad80"/>
<rect x="811.60" y="515.06" width="5.45" height="5.42" fill="#238c8c"/>
<rect x="816.65" y="515.06" width="5.45" height="5.42" fill="#4fc36a"/>
<rect x="821.70" y="515.06" width="5.45" height="5.42" fill="#4fc36a"/>
<rect x="826.75" y="515.06" width="5.45" height="5.42" fill="#440154"/>
<rect x="831.80" y="515.06" width="5.45" height="5.42" fill="#440154"/>
<rect x="836.85" y="515.06" width="5.45" height="5.42" fill="#440154"/>
<rect x="841.90" y="515.06" width="5.45" height="5.42" fill="#440154"/>
<rect x="846.95" y="515.06" width="5.45" height="5.42" fill="#440154"/>
<rect x="751.00" y="520.08" width="5.45" height="5.42" fill="#440154"/>
<rect x="756.05" y="520.08" width="5.45" height="5.42" fill="#440154"/>
<rect x="761.10" y="520.08" width="5.45" height="5.42" fill="#440154"/>
<rect x="766.15" y="520.08" width="5.45" height="5.42" fill="#440154"/>
<rect x="771.20" y="520.08" width="5.45" height="5.42" fill="#440154"/>
<rect x="776.25" y="520.08" width="5.45" height="5.42" fill="#440154"/>
<rect x="781.30" y="520.08" width="5.45" height="5.42" fill="#440154"/>
<rect x="786.35" y="520.08" width="5.45" height="5.42" fill="#440154"/>
<rect x="791.40" y="520.08" width="5.45" height="5.42" fill="#440154"/>
<rect x="796.45" y="520.08" width="5.45" height="5.42" fill="#440154"/>
<rect x="801.50" y="520.08" width="5.45" height="5.42" fill="#440154"/>
<rect x="806.55" y="520.08" width="5.45" height="5.42" fill="#4fc36a"/>
<rect x="811.60" y="520.08" width="5.45" height="5.42" fill="#482475"/>
<rect x="816.65" y="520.08" width="5.45" height="5.42" fill="#29ad80"/>
<rect x="821.70" y="520.08" width="5.45" height="5.42" fill="#4fc36a"/>
<rect x="826.75" y="520.08" width="5.45" height="5.42" fill="#440154"/>
<rect x="831.80" y="520.08" width="5.45" height="5.42" fill="#440154"/>
<rect x="836.85" y="520.08" width="5.45" height="5.42" fill="#440154"/>
<rect x="841.90" y="520.08" width="5.45" height="5.42" fill="#355f8d"/>
<rect x="846.95" y="520.08" width="5.45" height="5.42" fill="#440154"/>
<rect x="751.00" y="525.09" width="5.45" height="5.42" fill="#440154"/>
<rect x="756.05" y="525.09" width="5.45" height="5.42" fill="#440154"/>
<rect x="761.10" y="525.09" width="5.45" height="5.42" fill="#440154"/>
<rect x="766.15" y="525.09" width="5.45" height="5.42" fill="#440154"/>
<rect x="771.20" y="525.09" width="5.45" height="5.42" fill="#440154"/>
<rect x="776.25" y="525.09" width="5.45" height="5.42" fill="#440154"/>
<rect x="781.30" y="525.09" width="5.45" height="5.42" fill="#440154"/>
<rect x="786.35" y="525.09" width="5.45" height="5.42" fill="#4fc36a"/>
<rect x="791.40" y="525.09" width="5.45" height="5.42" fill="#7ad151"/>
<rect x="796.45" y="525.09" width="5.45" height="5.42" fill="#7ad151"/>
<rect x="801.50" y="525.09" width="5.45" height="5.42" fill="#4fc36a"/>
<rect x="806.55" y="525.09" width="5.45" height="5.42" fill="#4fc36a"/>
<rect x="811.60" y="525.09" width="5.45" height="5.42" fill="#4fc36a"/>
<rect x="816.65" y="525.09" width="5.45" height="5.42" fill="#4fc36a"/>
<rect x="821.70" y="525.09" width="5.45" height="5.42" fill="#29ad80"/>
<rect x="826.75" y="525.09" width="5.45" height="5.42" fill="#440154"/>
<rect x="831.80" y="525.09" width="5.45" height="5.42" fill="#440154"/>
<rect x="836.85" y="525.09" width="5.45" height="5.42" fill="#440154"/>
<rect x="841.90" y="525.09" width="5.45" height="5.42" fill="#440154"/>
<rect x="846.95" y="525.09" width="5.45" height="5.42" fill="#440154"/>
<rect x="751.00" y="530.11" width="5.45" height="5.42" fill="#440154"/>
<rect x="756.05" y="530.11" width="5.45" height="5.42" fill="#440154"/>
<rect x="761.10" y="530.11" width="5.45" height="5.42" fill="#440154"/>
<rect x="766.15" y="530.11" width="5.45" height="5.42" fill="#440154"/>
<rect x="771.20" y="530.11" width="5.45" height="5.42" fill="#7ad151"/>
<rect x="776.25" y="530.11" width="5.45" height="5.42" fill="#a2d937"/>
<rect x="781.30" y="530.11" width="5.45" height="5.42" fill="#a2d937"/>
<rect x="786.35" y="530.11" width="5.45" height="5.42" fill="#a2d937"/>
<rect x="791.40" y="530.11" width="5.45" height="5.42" fill="#7ad151"/>
<rect x="796.45" y="530.11" width="5.45" height="5.42" fill="#4fc36a"/>
<rect x="801.50" y="530.11" width="5.45" height="5.42" fill="#29ad80"/>
<rect x="806.55" y="530.11" width="5.45" height="5.42" fill="#4fc36a"/>
<rect x="811.60" y="530.11" width="5.45" height="5.42" fill="#4fc36a"/>
<rect x="816.65" y="530.11" width="5.45" height="5.42" fill="#4fc36a"/>
<rect x="821.70" y="530.11" width="5.45" height="5.42" fill="#29ad80"/>
<rect x="826.75" y="530.11" width="5.45" height="5.42" fill="#440154"/>
<rect x="831.80" y="530.11" width="5.45" height="5.42" fill="#440154"/>
<rect x="836.85" y="530.11" width="5.45" height="5.42" fill="#440154"/>
<rect x="841.90" y="530.11" width="5.45" height="5.42" fill="#440154"/>
<rect x="846.95" y="530.11" width="5.45" height="5.42" fill="#440154"/>
<rect x="751.00" y="535.12" width="5.45" height="5.42" fill="#440154"/>
<rect x="756.05" y="535.12" width="5.45" height="5.42" fill="#440154"/>
<rect x="761.10" y="535.12" width="5.45" height="5.42" fill="#440154"/>
<rect x="766.15" y="535.12" width="5.45" height="5.42" fill="#7ad151"/>
<rect x="771.20" y="535.12" width="5.45" height="5.42" fill="#c3e026"/>
<rect x="776.25" y="535.12" width="5.45" height="5.42" fill="#c3e026"/>
<rect x="781.30" y="535.12" width="5.45" height="5.42" fill="#a2d937"/>
<rect x="786.35" y="535.12" width="5.45" height="5.42" fill="#7ad151"/>
<rect x="791.40" y="535.12" width="5.45" height="5.42" fill="#4fc36a"/>
<rect x="796.45" y="535.12" width="5.45" height="5.42" fill="#29ad80"/>
<rect x="801.50" y="535.12" width="5.45" height="5.42" fill="#355f8d"/>
<rect x="806.55" y="535.12" width="5.45" height="5.42" fill="#4fc36a"/>
<rect x="811.60" y="535.12" width="5.45" height="5.42" fill="#4fc36a"/>
<rect x="816.65" y="535.12" width="5.45" height="5.42" fill="#4fc36a"/>
<rect x="821.70" y="535.12" width="5.45" height="5.42" fill="#29ad80"/>
<rect x="826.75" y="535.12" width="5.45" height="5.42" fill="#440154"/>
<rect x="831.80" y="535.12" width="5.45" height="5.42" fill="#440154"/>
<rect x="836.85" y="535.12" width="5.45" height="5.42" fill="#440154"/>
<rect x="841.90" y="535.12" width="5.45" height="5.42" fill="#440154"/>
<rect x="846.95" y="535.12" width="5.45" height="5.42" fill="#440154"/>
<rect x="751.00" y="540.13" width="5.45" height="5.42" fill="#440154"/>
<rect x="756.05" y="540.13" width="5.45" height="5.42" fill="#440154"/>
<rect x="761.10" y="540.13" width="5.45" height="5.42" fill="#7ad151"/>
<rect x="766.15" y="540.13" width="5.45" height="5.42" fill="#a2d937"/>
<rect x="771.20" y="540.13" width="5.45" height="5.42" fill="#dde326"/>
<rect x="776.25" y="540.13" width="5.45" height="5.42" fill="#dde326"/>
<rect x="781.30" y="540.13" width="5.45" height="5.42" fill="#a2d937"/>
<rect x="786.35" y="540.13" width="5.45" height="5.42" fill="#7ad151"/>
<rect x="791.40" y="540.13" width="5.45" height="5.42" fill="#4fc36a"/>
<rect x="796.45" y="540.13" width="5.45" height="5.42" fill="#4fc36a"/>
<rect x="801.50" y="540.13" width="5.45" height="5.42" fill="#4fc36a"/>
<rect x="806.55" y="540.13" width="5.45" height="5.42" fill="#4fc36a"/>
<rect x="811.60" y="540.13" width="5.45" height="5.42" fill="#4fc36a"/>
<rect x="816.65" y="540.13" width="5.45" height="5.42" fill="#4fc36a"/>
<rect x="821.70" y="540.13" width="5.45" height="5.42" fill="#29ad80"/>
<rect x="826.75" y="540.13" width="5.45" height="5.42" fill="#440154"/>
<rect x="831.80" y="540.13" width="5.45" height="5.42" fill="#440154"/>
<rect x="836.85" y="540.13" width="5.45" height="5.42" fill="#440154"/>
<rect x="841.90" y="540.13" width="5.45" height="5.42" fill="#440154"/>
<rect x="846.95" y="540.13" width="5.45" height="5.42" fill="#440154"/>
<rect x="751.00" y="545.15" width="5.45" height="5.42" fill="#440154"/>
<rect x="756.05" y="545.15" width="5.45" height="5.42" fill="#440154"/>
<rect x="761.10" y="545.15" width="5.45" height="5.42" fill="#4fc36a"/>
<rect x="766.15" y="545.15" width="5.45" height="5.42" fill="#7ad151"/>
<rect x="771.20" y="545.15" width="5.45" height="5.42" fill="#7ad151"/>
<rect x="776.25" y="545.15" width="5.45" height="5.42" fill="#4fc36a"/>
<rect x="781.30" y="545.15" width="5.45" height="5.42" fill="#355f8d"/>
<rect x="786.35" y="545.15" width="5.45" height="5.42" fill="#7ad151"/>
<rect x="791.40" y="545.15" width="5.45" height="5.42" fill="#4fc36a"/>
<rect x="796.45" y="545.15" width="5.45" height="5.42" fill="#4fc36a"/>
<rect x="801.50" y="545.15" width="5.45" height="5.42" fill="#4fc36a"/>
<rect x="806.55" y="545.15" width="5.45" height="5.42" fill="#4fc36a"/>
<rect x="811.60" y="545.15" width="5.45" height="5.42" fill="#4fc36a"/>
<rect x="816.65" y="545.15" width="5.45" height="5.42" fill="#29ad80"/>
<rect x="821.70" y="545.15" width="5.45" height="5.42" fill="#29ad80"/>
<rect x="826.75" y="545.15" width="5.45" height="5.42" fill="#440154"/>
<rect x="831.80" y="545.15" width="5.45" height="5.42" fill="#440154"/>
<rect x="836.85" y="545.15" width="5.45" height="5.42" fill="#440154"/>
<rect x="841.90" y="545.15" width="5.45" height="5.42" fill="#440154"/>
<rect x="846.95" y="545.15" width="5.45" height="5.42" fill="#440154"/>
<rect x="751.00" y="550.16" width="5.45" height="5.42" fill="#440154"/>
<rect x="756.05" y="550.16" width="5.45" height="5.42" fill="#4fc36a"/>
<rect x="761.10" y="550.16" width="5.45" height="5.42" fill="#4fc36a"/>
<rect x="766.15" y="550.16" width="5.45" height="5.42" fill="#7ad151"/>
<rect x="771.20" y="550.16" width="5.45" height="5.42" fill="#7ad151"/>
<rect x="776.25" y="550.16" width="5.45" height="5.42" fill="#7ad151"/>
<rect x="781.30" y="550.16" width="5.45" height="5.42" fill="#4fc36a"/>
<rect x="786.35" y="550.16" width="5.45" height="5.42" fill="#4fc36a"/>
<rect x="791.40" y="550.16" width="5.45" height="5.42" fill="#4fc36a"/>
<rect x="796.45" y="550.16" width="5.45" height="5.42" fill="#4fc36a"/>
<rect x="801.50" y="550.16" width="5.45" height="5.42" fill="#4fc36a"/>
<rect x="806.55" y="550.16" width="5.45" height="5.42" fill="#4fc36a"/>
<rect x="811.60" y="550.16" width="5.45" height="5.42" fill="#29ad80"/>
<rect x="816.65" y="550.16" width="5.45" height="5.42" fill="#4fc36a"/>
<rect x="821.70" y="550.16" width="5.45" height="5.42" fill="#29ad80"/>
<rect x="826.75" y="550.16" width="5.45" height="5.42" fill="#440154"/>
<rect x="831.80" y="550.16" width="5.45" height="5.42" fill="#440154"/>
<rect x="836.85" y="550.16" width="5.45" height="5.42" fill="#440154"/>
<rect x="841.90" y="550.16" width="5.45" height="5.42" fill="#440154"/>
<rect x="846.95" y="550.16" width="5.45" height="5.42" fill="#440154"/>
<rect x="751.00" y="555.18" width="5.45" height="5.42" fill="#440154"/>
<rect x="756.05" y="555.18" width="5.45" height="5.42" fill="#29ad80"/>
<rect x="761.10" y="555.18" width="5.45" height="5.42" fill="#4fc36a"/>
<rect x="766.15" y="555.18" width="5.45" height="5.42" fill="#4fc36a"/>
<rect x="771.20" y="555.18" width="5.45" height="5.42" fill="#4fc36a"/>
<rect x="776.25" y="555.18" width="5.45" height="5.42" fill="#4fc36a"/>
<rect x="781.30" y="555.18" width="5.45" height="5.42" fill="#4fc36a"/>
<rect x="786.35" y="555.18" width="5.45" height="5.42" fill="#29ad80"/>
<rect x="791.40" y="555.18" width="5.45" height="5.42" fill="#4fc36a"/>
<rect x="796.45" y="555.18" width="5.45" height="5.42" fill="#29ad80"/>
<rect x="801.50" y="555.18" width="5.45" height="5.42" fill="#29ad80"/>
<rect x="806.55" y="555.18" width="5.45" height="5.42" fill="#29ad80"/>
<rect x="811.60" y="555.18" width="5.45" height="5.42" fill="#4fc36a"/>
<rect x="816.65" y="555.18" width="5.45" height="5.42" fill="#29ad80"/>
<rect x="821.70" y="555.18" width="5.45" height="5.42" fill="#29ad80"/>
<rect x="826.75" y="555.18" width="5.45" height="5.42" fill="#440154"/>
<rect x="831.80" y="555.18" width="5.45" height="5.42" fill="#440154"/>
<rect x="836.85" y="555.18" width="5.45" height="5.42" fill="#440154"/>
<rect x="841.90" y="555.18" width="5.45" height="5.42" fill="#440154"/>
<rect x="846.95" y="555.18" width="5.45" height="5.42" fill="#440154"/>
<rect x="751.00" y="560.19" width="5.45" height="5.42" fill="#440154"/>
<rect x="756.05" y="560.19" width="5.45" height="5.42" fill="#29ad80"/>
<rect x="761.10" y="560.19" width="5.45" height="5.42" fill="#29ad80"/>
<rect x="766.15" y="560.19" width="5.45" height="5.42" fill="#29ad80"/>
<rect x="771.20" y="560.19" width="5.45" height="5.42" fill="#4fc36a"/>
<rect x="776.25" y="560.19" width="5.45" height="5.42" fill="#4fc36a"/>
<rect x="781.30" y="560.19" width="5.45" height="5.42" fill="#4fc36a"/>
<rect x="786.35" y="560.19" width="5.45" height="5.42" fill="#29ad80"/>
<rect x="791.40" y="560.19" width="5.45" height="5.42" fill="#238c8c"/>
<rect x="796.45" y="560.19" width="5.45" height="5.42" fill="#29ad80"/>
<rect x="801.50" y="560.19" width="5.45" height="5.42" fill="#238c8c"/>
<rect x="806.55" y="560.19" width="5.45" height="5.42" fill="#29ad80"/>
<rect x="811.60" y="560.19" width="5.45" height="5.42" fill="#29ad80"/>
<rect x="816.65" y="560.19" width="5.45" height="5.42" fill="#29ad80"/>
<rect x="821.70" y="560.19" width="5.45" height="5.42" fill="#29ad80"/>
<rect x="826.75" y="560.19" width="5.45" height="5.42" fill="#440154"/>
<rect x="831.80" y="560.19" width="5.45" height="5.42" fill="#440154"/>
<rect x="836.85" y="560.19" width="5.45" height="5.42" fill="#440154"/>
<rect x="841.90" y="560.19" width="5.45" height="5.42" fill="#440154"/>
<rect x="846.95" y="560.19" width="5.45" height="5.42" fill="#440154"/>
<rect x="751.00" y="565.21" width="5.45" height="5.42" fill="#440154"/>
<rect x="756.05" y="565.21" width="5.45" height="5.42" fill="#440154"/>
<rect x="761.10" y="565.21" width="5.45" height="5.42" fill="#440154"/>
<rect x="766.15" y="565.21" width="5.45" height="5.42" fill="#440154"/>
<rect x="771.20" y="565.21" width="5.45" height="5.42" fill="#440154"/>
<rect x="776.25" y="565.21" width="5.45" height="5.42" fill="#4fc36a"/>
<rect x="781.30" y="565.21" width="5.45" height="5.42" fill="#4fc36a"/>
<rect x="786.35" y="565.21" width="5.45" height="5.42" fill="#29ad80"/>
<rect x="791.40" y="565.21" width="5.45" height="5.42" fill="#238c8c"/>
<rect x="796.45" y="565.21" width="5.45" height="5.42" fill="#29ad80"/>
<rect x="801.50" y="565.21" width="5.45" height="5.42" fill="#238c8c"/>
<rect x="806.55" y="565.21" width="5.45" height="5.42" fill="#29ad80"/>
<rect x="811.60" y="565.21" width="5.45" height="5.42" fill="#29ad80"/>
<rect x="816.65" y="565.21" width="5.45" height="5.42" fill="#29ad80"/>
<rect x="821.70" y="565.21" width="5.45" height="5.42" fill="#29ad80"/>
<rect x="826.75" y="565.21" width="5.45" height="5.42" fill="#440154"/>
<rect x="831.80" y="565.21" width="5.45" height="5.42" fill="#440154"/>
<rect x="836.85" y="565.21" width="5.45" height="5.42" fill="#440154"/>
<rect x="841.90" y="565.21" width="5.45" height="5.42" fill="#440154"/>
<rect x="846.95" y="565.21" width="5.45" height="5.42" fill="#440154"/>
<rect x="751.00" y="570.23" width="5.45" height="5.42" fill="#440154"/>
<rect x="756.05" y="570.23" width="5.45" height="5.42" fill="#440154"/>
<rect x="761.10" y="570.23" width="5.45" height="5.42" fill="#440154"/>
<rect x="766.15" y="570.23" width="5.45" height="5.42" fill="#440154"/>
<rect x="771.20" y="570.23" width="5.45" height="5.42" fill="#440154"/>
<rect x="776.25" y="570.23" width="5.45" height="5.42" fill="#4fc36a"/>
<rect x="781.30" y="570.23" width="5.45" height="5.42" fill="#29ad80"/>
<rect x="786.35" y="570.23" width="5.45" height="5.42" fill="#29ad80"/>
<rect x="791.40" y="570.23" width="5.45" height="5.42" fill="#238c8c"/>
<rect x="796.45" y="570.23" width="5.45" height="5.42" fill="#29ad80"/>
<rect x="801.50" y="570.23" width="5.45" height="5.42" fill="#29ad80"/>
<rect x="806.55" y="570.23" width="5.45" height="5.42" fill="#29ad80"/>
<rect x="811.60" y="570.23" width="5.45" height="5.42" fill="#29ad80"/>
<rect x="816.65" y="570.23" width="5.45" height="5.42" fill="#29ad80"/>
<rect x="821.70" y="570.23" width="5.45" height="5.42" fill="#29ad80"/>
<rect x="826.75" y="570.23" width="5.45" height="5.42" fill="#440154"/>
<rect x="831.80" y="570.23" width="5.45" height="5.42" fill="#440154"/>
<rect x="836.85" y="570.23" width="5.45" height="5.42" fill="#440154"/>
<rect x="841.90" y="570.23" width="5.45" height="5.42" fill="#440154"/>
<rect x="846.95" y="570.23" width="5.45" height="5.42" fill="#440154"/>
<rect x="751.00" y="575.24" width="5.45" height="5.42" fill="#440154"/>
<rect x="756.05" y="575.24" width="5.45" height="5.42" fill="#440154"/>
<rect x="761.10" y="575.24" width="5.45" height="5.42" fill="#440154"/>
<rect x="766.15" y="575.24" width="5.45" height="5.42" fill="#440154"/>
<rect x="771.20" y="575.24" width="5.45" height="5.42" fill="#440154"/>
<rect x="776.25" y="575.24" width="5.45" height="5.42" fill="#29ad80"/>
<rect x="781.30" y="575.24" width="5.45" height="5.42" fill="#29ad80"/>
<rect x="786.35" y="575.24" width="5.45" height="5.42" fill="#238c8c"/>
<rect x="791.40" y="575.24" width="5.45" height="5.42" fill="#238c8c"/>
<rect x="796.45" y="575.24" width="5.45" height="5.42" fill="#440154"/>
<rect x="801.50" y="575.24" width="5.45" height="5.42" fill="#29ad80"/>
<rect x="806.55" y="575.24" width="5.45" height="5.42" fill="#29ad80"/>
<rect x="811.60" y="575.24" width="5.45" height="5.42" fill="#29ad80"/>
<rect x="816.65" y="575.24" width="5.45" height="5.42" fill="#29ad80"/>
<rect x="821.70" y="575.24" width="5.45" height="5.42" fill="#29ad80"/>
<rect x="826.75" y="575.24" width="5.45" height="5.42" fill="#440154"/>
<rect x="831.80" y="575.24" width="5.45" height="5.42" fill="#440154"/>
<rect x="836.85" y="575.24" width="5.45" height="5.42" fill="#440154"/>
<rect x="841.90" y="575.24" width="5.45" height="5.42" fill="#440154"/>
<rect x="846.95" y="575.24" width="5.45" height="5.42" fill="#440154"/>
<rect x="751.00" y="580.25" width="5.45" height="5.42" fill="#440154"/>
<rect x="756.05" y="580.25" width="5.45" height="5.42" fill="#440154"/>
<rect x="761.10" y="580.25" width="5.45" height="5.42" fill="#440154"/>
<rect x="766.15" y="580.25" width="5.45" height="5.42" fill="#440154"/>
<rect x="771.20" y="580.25" width="5.45" height="5.42" fill="#440154"/>
<rect x="776.25" y="580.25" width="5.45" height="5.42" fill="#29ad80"/>
<rect x="781.30" y="580.25" width="5.45" height="5.42" fill="#29ad80"/>
<rect x="786.35" y="580.25" width="5.45" height="5.42" fill="#238c8c"/>
<rect x="791.40" y="580.25" width="5.45" height="5.42" fill="#440154"/>
<rect x="796.45" y="580.25" width="5.45" height="5.42" fill="#440154"/>
<rect x="801.50" y="580.25" width="5.45" height="5.42" fill="#440154"/>
<rect x="806.55" y="580.25" width="5.45" height="5.42" fill="#440154"/>
<rect x="811.60" y="580.25" width="5.45" height="5.42" fill="#29ad80"/>
<rect x="816.65" y="580.25" width="5.45" height="5.42" fill="#238c8c"/>
<rect x="821.70" y="580.25" width="5.45" height="5.42" fill="#238c8c"/>
<rect x="826.75" y="580.25" width="5.45" height="5.42" fill="#440154"/>
<rect x="831.80" y="580.25" width="5.45" height="5.42" fill="#440154"/>
<rect x="836.85" y="580.25" width="5.45" height="5.42" fill="#440154"/>
<rect x="841.90" y="580.25" width="5.45" height="5.42" fill="#440154"/>
<rect x="846.95" y="580.25" width="5.45" height="5.42" fill="#440154"/>
<rect x="751.00" y="585.27" width="5.45" height="5.42" fill="#440154"/>
<rect x="756.05" y="585.27" width="5.45" height="5.42" fill="#440154"/>
<rect x="761.10" y="585.27" width="5.45" height="5.42" fill="#440154"/>
<rect x="766.15" y="585.27" width="5.45" height="5.42" fill="#440154"/>
<rect x="771.20" y="585.27" width="5.45" height="5.42" fill="#440154"/>
<rect x="776.25" y="585.27" width="5.45" height="5.42" fill="#238c8c"/>
<rect x="781.30" y="585.27" width="5.45" height="5.42" fill="#238c8c"/>
<rect x="786.35" y="585.27" width="5.45" height="5.42" fill="#440154"/>
<rect x="791.40" y="585.27" width="5.45" height="5.42" fill="#440154"/>
<rect x="796.45" y="585.27" width="5.45" height="5.42" fill="#440154"/>
<rect x="801.50" y="585.27" width="5.45" height="5.42" fill="#440154"/>
<rect x="806.55" y="585.27" width="5.45" height="5.42" fill="#440154"/>
<rect x="811.60" y="585.27" width="5.45" height="5.42" fill="#440154"/>
<rect x="816.65" y="585.27" width="5.45" height="5.42" fill="#440154"/>
<rect x="821.70" y="585.27" width="5.45" height="5.42" fill="#440154"/>
<rect x="826.75" y="585.27" width="5.45" height="5.42" fill="#440154"/>
<rect x="831.80" y="585.27" width="5.45" height="5.42" fill="#440154"/>
<rect x="836.85" y="585.27" width="5.45" height="5.42" fill="#440154"/>
<rect x="841.90" y="585.27" width="5.45" height="5.42" fill="#440154"/>
<rect x="846.95" y="585.27" width="5.45" height="5.42" fill="#440154"/>
<rect x="751.00" y="590.28" width="5.45" height="5.42" fill="#440154"/>
<rect x="756.05" y="590.28" width="5.45" height="5.42" fill="#440154"/>
<rect x="761.10" y="590.28" width="5.45" height="5.42" fill="#440154"/>
<rect x="766.15" y="590.28" width="5.45" height="5.42" fill="#440154"/>
<rect x="771.20" y="590.28" width="5.45" height="5.42" fill="#440154"/>
<rect x="776.25" y="590.28" width="5.45" height="5.42" fill="#440154"/>
<rect x="781.30" y="590.28" width="5.45" height="5.42" fill="#440154"/>
<rect x="786.35" y="590.28" width="5.45" height="5.42" fill="#440154"/>
<rect x="791.40" y="590.28" width="5.45" height="5.42" fill="#440154"/>
<rect x="796.45" y="590.28" width="5.45" height="5.42" fill="#440154"/>
<rect x="801.50" y="590.28" width="5.45" height="5.42" fill="#440154"/>
<rect x="806.55" y="590.28" width="5.45" height="5.42" fill="#440154"/>
<rect x="811.60" y="590.28" width="5.45" height="5.42" fill="#440154"/>
<rect x="816.65" y="590.28" width="5.45" height="5.42" fill="#440154"/>
<rect x="821.70" y="590.28" width="5.45" height="5.42" fill="#440154"/>
<rect x="826.75" y="590.28" width="5.45" height="5.42" fill="#440154"/>
<rect x="831.80" y="590.28" width="5.45" height="5.42" fill="#440154"/>
<rect x="836.85" y="590.28" width="5.45" height="5.42" fill="#440154"/>
<rect x="841.90" y="590.28" width="5.45" height="5.42" fill="#440154"/>
<rect x="846.95" y="590.28" width="5.45" height="5.42" fill="#440154"/>
</g></g>
<text x="815" y="480.3" font-size="27" text-anchor="start" font-weight="normal" font-style="italic" fill="#000" >P</text>
<text x="830" y="487.5" font-size="16" text-anchor="start" font-weight="normal" font-style="italic" fill="#000" >vt</text>
<text x="670" y="595" font-size="31" text-anchor="middle" font-weight="normal" font-style="normal" fill="#000" >VTP</text>
<path d="M852,544.6 L908.5,544.6" fill="none" stroke="#000" stroke-width="2" />
<path d="M895.0,551.4 L908.5,544.6 L895.0,537.8" fill="none" stroke="#000" stroke-width="2" stroke-linejoin="miter"/>
<path d="M1067.6,545.6 L930.5,545.6" fill="none" stroke="#000" stroke-width="2" />
<path d="M944.0,538.8 L930.5,545.6 L944.0,552.4" fill="none" stroke="#000" stroke-width="2" stroke-linejoin="miter"/>
<circle cx="919.4" cy="544.6" r="10.5" fill="none" stroke="#000" stroke-width="2"/>
<path d="M912,537.2 L926.8,552 M926.8,537.2 L912,552" stroke="#000" stroke-width="2"/>
<path d="M919.4,534 L919.4,503.6" fill="none" stroke="#000" stroke-width="2" />
<path d="M926.2,517.1 L919.4,503.6 L912.6,517.1" fill="none" stroke="#000" stroke-width="2" stroke-linejoin="miter"/>
<g clip-path="url(#cvth)"><g filter="url(#bl07)">
<rect x="868.30" y="403.20" width="5.43" height="5.41" fill="#414386"/>
<rect x="873.33" y="403.20" width="5.43" height="5.41" fill="#414587"/>
<rect x="878.36" y="403.20" width="5.43" height="5.41" fill="#423e83"/>
<rect x="883.39" y="403.20" width="5.43" height="5.41" fill="#45307c"/>
<rect x="888.42" y="403.20" width="5.43" height="5.41" fill="#44357e"/>
<rect x="893.45" y="403.20" width="5.43" height="5.41" fill="#433d83"/>
<rect x="898.48" y="403.20" width="5.43" height="5.41" fill="#404788"/>
<rect x="903.51" y="403.20" width="5.43" height="5.41" fill="#433c83"/>
<rect x="908.54" y="403.20" width="5.43" height="5.41" fill="#414487"/>
<rect x="913.57" y="403.20" width="5.43" height="5.41" fill="#404687"/>
<rect x="918.60" y="403.20" width="5.43" height="5.41" fill="#3a548b"/>
<rect x="923.63" y="403.20" width="5.43" height="5.41" fill="#3f4788"/>
<rect x="928.66" y="403.20" width="5.43" height="5.41" fill="#3f4888"/>
<rect x="933.69" y="403.20" width="5.43" height="5.41" fill="#414487"/>
<rect x="938.72" y="403.20" width="5.43" height="5.41" fill="#3a538a"/>
<rect x="943.75" y="403.20" width="5.43" height="5.41" fill="#3e4a88"/>
<rect x="948.78" y="403.20" width="5.43" height="5.41" fill="#3d4c89"/>
<rect x="953.81" y="403.20" width="5.43" height="5.41" fill="#433c82"/>
<rect x="958.84" y="403.20" width="5.43" height="5.41" fill="#3c508a"/>
<rect x="963.87" y="403.20" width="5.43" height="5.41" fill="#3e4a88"/>
<rect x="868.30" y="408.21" width="5.43" height="5.41" fill="#3d4c89"/>
<rect x="873.33" y="408.21" width="5.43" height="5.41" fill="#45307c"/>
<rect x="878.36" y="408.21" width="5.43" height="5.41" fill="#45337e"/>
<rect x="883.39" y="408.21" width="5.43" height="5.41" fill="#482676"/>
<rect x="888.42" y="408.21" width="5.43" height="5.41" fill="#423f84"/>
<rect x="893.45" y="408.21" width="5.43" height="5.41" fill="#45317d"/>
<rect x="898.48" y="408.21" width="5.43" height="5.41" fill="#433a81"/>
<rect x="903.51" y="408.21" width="5.43" height="5.41" fill="#45307c"/>
<rect x="908.54" y="408.21" width="5.43" height="5.41" fill="#3e4c89"/>
<rect x="913.57" y="408.21" width="5.43" height="5.41" fill="#3e4b88"/>
<rect x="918.60" y="408.21" width="5.43" height="5.41" fill="#26848d"/>
<rect x="923.63" y="408.21" width="5.43" height="5.41" fill="#4fc36a"/>
<rect x="928.66" y="408.21" width="5.43" height="5.41" fill="#29ad80"/>
<rect x="933.69" y="408.21" width="5.43" height="5.41" fill="#4fc36a"/>
<rect x="938.72" y="408.21" width="5.43" height="5.41" fill="#26848d"/>
<rect x="943.75" y="408.21" width="5.43" height="5.41" fill="#424185"/>
<rect x="948.78" y="408.21" width="5.43" height="5.41" fill="#404788"/>
<rect x="953.81" y="408.21" width="5.43" height="5.41" fill="#3f4988"/>
<rect x="958.84" y="408.21" width="5.43" height="5.41" fill="#3b538a"/>
<rect x="963.87" y="408.21" width="5.43" height="5.41" fill="#404788"/>
<rect x="868.30" y="413.22" width="5.43" height="5.41" fill="#44367f"/>
<rect x="873.33" y="413.22" width="5.43" height="5.41" fill="#462e7b"/>
<rect x="878.36" y="413.22" width="5.43" height="5.41" fill="#472a78"/>
<rect x="883.39" y="413.22" width="5.43" height="5.41" fill="#44357e"/>
<rect x="888.42" y="413.22" width="5.43" height="5.41" fill="#472978"/>
<rect x="893.45" y="413.22" width="5.43" height="5.41" fill="#462b79"/>
<rect x="898.48" y="413.22" width="5.43" height="5.41" fill="#472978"/>
<rect x="903.51" y="413.22" width="5.43" height="5.41" fill="#414487"/>
<rect x="908.54" y="413.22" width="5.43" height="5.41" fill="#414386"/>
<rect x="913.57" y="413.22" width="5.43" height="5.41" fill="#3e4a88"/>
<rect x="918.60" y="413.22" width="5.43" height="5.41" fill="#26848d"/>
<rect x="923.63" y="413.22" width="5.43" height="5.41" fill="#b0dc2f"/>
<rect x="928.66" y="413.22" width="5.43" height="5.41" fill="#87d448"/>
<rect x="933.69" y="413.22" width="5.43" height="5.41" fill="#b0dc2f"/>
<rect x="938.72" y="413.22" width="5.43" height="5.41" fill="#26848d"/>
<rect x="943.75" y="413.22" width="5.43" height="5.41" fill="#3e4b89"/>
<rect x="948.78" y="413.22" width="5.43" height="5.41" fill="#404788"/>
<rect x="953.81" y="413.22" width="5.43" height="5.41" fill="#39568b"/>
<rect x="958.84" y="413.22" width="5.43" height="5.41" fill="#424085"/>
<rect x="963.87" y="413.22" width="5.43" height="5.41" fill="#3f4988"/>
<rect x="868.30" y="418.23" width="5.43" height="5.41" fill="#472978"/>
<rect x="873.33" y="418.23" width="5.43" height="5.41" fill="#433a81"/>
<rect x="878.36" y="418.23" width="5.43" height="5.41" fill="#472a79"/>
<rect x="883.39" y="418.23" width="5.43" height="5.41" fill="#472b79"/>
<rect x="888.42" y="418.23" width="5.43" height="5.41" fill="#461365"/>
<rect x="893.45" y="418.23" width="5.43" height="5.41" fill="#462c7a"/>
<rect x="898.48" y="418.23" width="5.43" height="5.41" fill="#45317c"/>
<rect x="903.51" y="418.23" width="5.43" height="5.41" fill="#414387"/>
<rect x="908.54" y="418.23" width="5.43" height="5.41" fill="#44367f"/>
<rect x="913.57" y="418.23" width="5.43" height="5.41" fill="#414487"/>
<rect x="918.60" y="418.23" width="5.43" height="5.41" fill="#26848d"/>
<rect x="923.63" y="418.23" width="5.43" height="5.41" fill="#d0e126"/>
<rect x="928.66" y="418.23" width="5.43" height="5.41" fill="#d0e126"/>
<rect x="933.69" y="418.23" width="5.43" height="5.41" fill="#d0e126"/>
<rect x="938.72" y="418.23" width="5.43" height="5.41" fill="#4fc36a"/>
<rect x="943.75" y="418.23" width="5.43" height="5.41" fill="#26848d"/>
<rect x="948.78" y="418.23" width="5.43" height="5.41" fill="#3d4c89"/>
<rect x="953.81" y="418.23" width="5.43" height="5.41" fill="#404788"/>
<rect x="958.84" y="418.23" width="5.43" height="5.41" fill="#414286"/>
<rect x="963.87" y="418.23" width="5.43" height="5.41" fill="#3e4c89"/>
<rect x="868.30" y="423.24" width="5.43" height="5.41" fill="#424085"/>
<rect x="873.33" y="423.24" width="5.43" height="5.41" fill="#45347e"/>
<rect x="878.36" y="423.24" width="5.43" height="5.41" fill="#462d7a"/>
<rect x="883.39" y="423.24" width="5.43" height="5.41" fill="#461466"/>
<rect x="888.42" y="423.24" width="5.43" height="5.41" fill="#472777"/>
<rect x="893.45" y="423.24" width="5.43" height="5.41" fill="#462b79"/>
<rect x="898.48" y="423.24" width="5.43" height="5.41" fill="#433b82"/>
<rect x="903.51" y="423.24" width="5.43" height="5.41" fill="#462b79"/>
<rect x="908.54" y="423.24" width="5.43" height="5.41" fill="#424085"/>
<rect x="913.57" y="423.24" width="5.43" height="5.41" fill="#414487"/>
<rect x="918.60" y="423.24" width="5.43" height="5.41" fill="#29ad80"/>
<rect x="923.63" y="423.24" width="5.43" height="5.41" fill="#d0e126"/>
<rect x="928.66" y="423.24" width="5.43" height="5.41" fill="#d0e126"/>
<rect x="933.69" y="423.24" width="5.43" height="5.41" fill="#d0e126"/>
<rect x="938.72" y="423.24" width="5.43" height="5.41" fill="#b0dc2f"/>
<rect x="943.75" y="423.24" width="5.43" height="5.41" fill="#26848d"/>
<rect x="948.78" y="423.24" width="5.43" height="5.41" fill="#3e4b88"/>
<rect x="953.81" y="423.24" width="5.43" height="5.41" fill="#433d83"/>
<rect x="958.84" y="423.24" width="5.43" height="5.41" fill="#3a548b"/>
<rect x="963.87" y="423.24" width="5.43" height="5.41" fill="#3f4988"/>
<rect x="868.30" y="428.25" width="5.43" height="5.41" fill="#404688"/>
<rect x="873.33" y="428.25" width="5.43" height="5.41" fill="#472a78"/>
<rect x="878.36" y="428.25" width="5.43" height="5.41" fill="#462c79"/>
<rect x="883.39" y="428.25" width="5.43" height="5.41" fill="#482576"/>
<rect x="888.42" y="428.25" width="5.43" height="5.41" fill="#44367f"/>
<rect x="893.45" y="428.25" width="5.43" height="5.41" fill="#472a79"/>
<rect x="898.48" y="428.25" width="5.43" height="5.41" fill="#45307c"/>
<rect x="903.51" y="428.25" width="5.43" height="5.41" fill="#45327d"/>
<rect x="908.54" y="428.25" width="5.43" height="5.41" fill="#3f4a88"/>
<rect x="913.57" y="428.25" width="5.43" height="5.41" fill="#26848d"/>
<rect x="918.60" y="428.25" width="5.43" height="5.41" fill="#4fc36a"/>
<rect x="923.63" y="428.25" width="5.43" height="5.41" fill="#d0e126"/>
<rect x="928.66" y="428.25" width="5.43" height="5.41" fill="#4fc36a"/>
<rect x="933.69" y="428.25" width="5.43" height="5.41" fill="#d0e126"/>
<rect x="938.72" y="428.25" width="5.43" height="5.41" fill="#b0dc2f"/>
<rect x="943.75" y="428.25" width="5.43" height="5.41" fill="#26848d"/>
<rect x="948.78" y="428.25" width="5.43" height="5.41" fill="#404687"/>
<rect x="953.81" y="428.25" width="5.43" height="5.41" fill="#3c4f89"/>
<rect x="958.84" y="428.25" width="5.43" height="5.41" fill="#3d4e89"/>
<rect x="963.87" y="428.25" width="5.43" height="5.41" fill="#404788"/>
<rect x="868.30" y="433.26" width="5.43" height="5.41" fill="#45337d"/>
<rect x="873.33" y="433.26" width="5.43" height="5.41" fill="#443780"/>
<rect x="878.36" y="433.26" width="5.43" height="5.41" fill="#45317c"/>
<rect x="883.39" y="433.26" width="5.43" height="5.41" fill="#423f84"/>
<rect x="888.42" y="433.26" width="5.43" height="5.41" fill="#472978"/>
<rect x="893.45" y="433.26" width="5.43" height="5.41" fill="#45327d"/>
<rect x="898.48" y="433.26" width="5.43" height="5.41" fill="#462f7b"/>
<rect x="903.51" y="433.26" width="5.43" height="5.41" fill="#33648d"/>
<rect x="908.54" y="433.26" width="5.43" height="5.41" fill="#26848d"/>
<rect x="913.57" y="433.26" width="5.43" height="5.41" fill="#29ad80"/>
<rect x="918.60" y="433.26" width="5.43" height="5.41" fill="#b0dc2f"/>
<rect x="923.63" y="433.26" width="5.43" height="5.41" fill="#d0e126"/>
<rect x="928.66" y="433.26" width="5.43" height="5.41" fill="#d0e126"/>
<rect x="933.69" y="433.26" width="5.43" height="5.41" fill="#d0e126"/>
<rect x="938.72" y="433.26" width="5.43" height="5.41" fill="#b0dc2f"/>
<rect x="943.75" y="433.26" width="5.43" height="5.41" fill="#26848d"/>
<rect x="948.78" y="433.26" width="5.43" height="5.41" fill="#3f4988"/>
<rect x="953.81" y="433.26" width="5.43" height="5.41" fill="#3a548a"/>
<rect x="958.84" y="433.26" width="5.43" height="5.41" fill="#433d83"/>
<rect x="963.87" y="433.26" width="5.43" height="5.41" fill="#3e4b88"/>
<rect x="868.30" y="438.27" width="5.43" height="5.41" fill="#433981"/>
<rect x="873.33" y="438.27" width="5.43" height="5.41" fill="#404788"/>
<rect x="878.36" y="438.27" width="5.43" height="5.41" fill="#433d83"/>
<rect x="883.39" y="438.27" width="5.43" height="5.41" fill="#433981"/>
<rect x="888.42" y="438.27" width="5.43" height="5.41" fill="#462d7a"/>
<rect x="893.45" y="438.27" width="5.43" height="5.41" fill="#33648d"/>
<rect x="898.48" y="438.27" width="5.43" height="5.41" fill="#26848d"/>
<rect x="903.51" y="438.27" width="5.43" height="5.41" fill="#29ad80"/>
<rect x="908.54" y="438.27" width="5.43" height="5.41" fill="#87d448"/>
<rect x="913.57" y="438.27" width="5.43" height="5.41" fill="#d0e126"/>
<rect x="918.60" y="438.27" width="5.43" height="5.41" fill="#d0e126"/>
<rect x="923.63" y="438.27" width="5.43" height="5.41" fill="#d0e126"/>
<rect x="928.66" y="438.27" width="5.43" height="5.41" fill="#d0e126"/>
<rect x="933.69" y="438.27" width="5.43" height="5.41" fill="#d0e126"/>
<rect x="938.72" y="438.27" width="5.43" height="5.41" fill="#b0dc2f"/>
<rect x="943.75" y="438.27" width="5.43" height="5.41" fill="#26848d"/>
<rect x="948.78" y="438.27" width="5.43" height="5.41" fill="#3d4d89"/>
<rect x="953.81" y="438.27" width="5.43" height="5.41" fill="#424185"/>
<rect x="958.84" y="438.27" width="5.43" height="5.41" fill="#3f4888"/>
<rect x="963.87" y="438.27" width="5.43" height="5.41" fill="#3e4b89"/>
<rect x="868.30" y="443.28" width="5.43" height="5.41" fill="#3a538a"/>
<rect x="873.33" y="443.28" width="5.43" height="5.41" fill="#414286"/>
<rect x="878.36" y="443.28" width="5.43" height="5.41" fill="#414387"/>
<rect x="883.39" y="443.28" width="5.43" height="5.41" fill="#45317c"/>
<rect x="888.42" y="443.28" width="5.43" height="5.41" fill="#26848d"/>
<rect x="893.45" y="443.28" width="5.43" height="5.41" fill="#29ad80"/>
<rect x="898.48" y="443.28" width="5.43" height="5.41" fill="#87d448"/>
<rect x="903.51" y="443.28" width="5.43" height="5.41" fill="#d0e126"/>
<rect x="908.54" y="443.28" width="5.43" height="5.41" fill="#d0e126"/>
<rect x="913.57" y="443.28" width="5.43" height="5.41" fill="#d0e126"/>
<rect x="918.60" y="443.28" width="5.43" height="5.41" fill="#4fc36a"/>
<rect x="923.63" y="443.28" width="5.43" height="5.41" fill="#d0e126"/>
<rect x="928.66" y="443.28" width="5.43" height="5.41" fill="#d0e126"/>
<rect x="933.69" y="443.28" width="5.43" height="5.41" fill="#d0e126"/>
<rect x="938.72" y="443.28" width="5.43" height="5.41" fill="#b0dc2f"/>
<rect x="943.75" y="443.28" width="5.43" height="5.41" fill="#26848d"/>
<rect x="948.78" y="443.28" width="5.43" height="5.41" fill="#3f4988"/>
<rect x="953.81" y="443.28" width="5.43" height="5.41" fill="#424185"/>
<rect x="958.84" y="443.28" width="5.43" height="5.41" fill="#39558b"/>
<rect x="963.87" y="443.28" width="5.43" height="5.41" fill="#3f4888"/>
<rect x="868.30" y="448.29" width="5.43" height="5.41" fill="#3c4f89"/>
<rect x="873.33" y="448.29" width="5.43" height="5.41" fill="#424185"/>
<rect x="878.36" y="448.29" width="5.43" height="5.41" fill="#414587"/>
<rect x="883.39" y="448.29" width="5.43" height="5.41" fill="#26848d"/>
<rect x="888.42" y="448.29" width="5.43" height="5.41" fill="#29ad80"/>
<rect x="893.45" y="448.29" width="5.43" height="5.41" fill="#b0dc2f"/>
<rect x="898.48" y="448.29" width="5.43" height="5.41" fill="#d0e126"/>
<rect x="903.51" y="448.29" width="5.43" height="5.41" fill="#d0e126"/>
<rect x="908.54" y="448.29" width="5.43" height="5.41" fill="#d0e126"/>
<rect x="913.57" y="448.29" width="5.43" height="5.41" fill="#d0e126"/>
<rect x="918.60" y="448.29" width="5.43" height="5.41" fill="#d0e126"/>
<rect x="923.63" y="448.29" width="5.43" height="5.41" fill="#d0e126"/>
<rect x="928.66" y="448.29" width="5.43" height="5.41" fill="#d0e126"/>
<rect x="933.69" y="448.29" width="5.43" height="5.41" fill="#d0e126"/>
<rect x="938.72" y="448.29" width="5.43" height="5.41" fill="#b0dc2f"/>
<rect x="943.75" y="448.29" width="5.43" height="5.41" fill="#26848d"/>
<rect x="948.78" y="448.29" width="5.43" height="5.41" fill="#404687"/>
<rect x="953.81" y="448.29" width="5.43" height="5.41" fill="#3a548b"/>
<rect x="958.84" y="448.29" width="5.43" height="5.41" fill="#3f4888"/>
<rect x="963.87" y="448.29" width="5.43" height="5.41" fill="#3f4888"/>
<rect x="868.30" y="453.30" width="5.43" height="5.41" fill="#433b82"/>
<rect x="873.33" y="453.30" width="5.43" height="5.41" fill="#3d4d89"/>
<rect x="878.36" y="453.30" width="5.43" height="5.41" fill="#26848d"/>
<rect x="883.39" y="453.30" width="5.43" height="5.41" fill="#4fc36a"/>
<rect x="888.42" y="453.30" width="5.43" height="5.41" fill="#b0dc2f"/>
<rect x="893.45" y="453.30" width="5.43" height="5.41" fill="#d0e126"/>
<rect x="898.48" y="453.30" width="5.43" height="5.41" fill="#d0e126"/>
<rect x="903.51" y="453.30" width="5.43" height="5.41" fill="#4fc36a"/>
<rect x="908.54" y="453.30" width="5.43" height="5.41" fill="#d0e126"/>
<rect x="913.57" y="453.30" width="5.43" height="5.41" fill="#d0e126"/>
<rect x="918.60" y="453.30" width="5.43" height="5.41" fill="#d0e126"/>
<rect x="923.63" y="453.30" width="5.43" height="5.41" fill="#d0e126"/>
<rect x="928.66" y="453.30" width="5.43" height="5.41" fill="#d0e126"/>
<rect x="933.69" y="453.30" width="5.43" height="5.41" fill="#d0e126"/>
<rect x="938.72" y="453.30" width="5.43" height="5.41" fill="#b0dc2f"/>
<rect x="943.75" y="453.30" width="5.43" height="5.41" fill="#26848d"/>
<rect x="948.78" y="453.30" width="5.43" height="5.41" fill="#3e4b88"/>
<rect x="953.81" y="453.30" width="5.43" height="5.41" fill="#3c4f89"/>
<rect x="958.84" y="453.30" width="5.43" height="5.41" fill="#433d83"/>
<rect x="963.87" y="453.30" width="5.43" height="5.41" fill="#3e4b89"/>
<rect x="868.30" y="458.31" width="5.43" height="5.41" fill="#3f4788"/>
<rect x="873.33" y="458.31" width="5.43" height="5.41" fill="#3b508a"/>
<rect x="878.36" y="458.31" width="5.43" height="5.41" fill="#4fc36a"/>
<rect x="883.39" y="458.31" width="5.43" height="5.41" fill="#d0e126"/>
<rect x="888.42" y="458.31" width="5.43" height="5.41" fill="#d0e126"/>
<rect x="893.45" y="458.31" width="5.43" height="5.41" fill="#d0e126"/>
<rect x="898.48" y="458.31" width="5.43" height="5.41" fill="#d0e126"/>
<rect x="903.51" y="458.31" width="5.43" height="5.41" fill="#d0e126"/>
<rect x="908.54" y="458.31" width="5.43" height="5.41" fill="#d0e126"/>
<rect x="913.57" y="458.31" width="5.43" height="5.41" fill="#d0e126"/>
<rect x="918.60" y="458.31" width="5.43" height="5.41" fill="#d0e126"/>
<rect x="923.63" y="458.31" width="5.43" height="5.41" fill="#d0e126"/>
<rect x="928.66" y="458.31" width="5.43" height="5.41" fill="#d0e126"/>
<rect x="933.69" y="458.31" width="5.43" height="5.41" fill="#d0e126"/>
<rect x="938.72" y="458.31" width="5.43" height="5.41" fill="#b0dc2f"/>
<rect x="943.75" y="458.31" width="5.43" height="5.41" fill="#26848d"/>
<rect x="948.78" y="458.31" width="5.43" height="5.41" fill="#3d4c89"/>
<rect x="953.81" y="458.31" width="5.43" height="5.41" fill="#433c83"/>
<rect x="958.84" y="458.31" width="5.43" height="5.41" fill="#3c4e89"/>
<rect x="963.87" y="458.31" width="5.43" height="5.41" fill="#3e4a88"/>
<rect x="868.30" y="463.32" width="5.43" height="5.41" fill="#39578b"/>
<rect x="873.33" y="463.32" width="5.43" height="5.41" fill="#414487"/>
<rect x="878.36" y="463.32" width="5.43" height="5.41" fill="#4fc36a"/>
<rect x="883.39" y="463.32" width="5.43" height="5.41" fill="#b0dc2f"/>
<rect x="888.42" y="463.32" width="5.43" height="5.41" fill="#d0e126"/>
<rect x="893.45" y="463.32" width="5.43" height="5.41" fill="#d0e126"/>
<rect x="898.48" y="463.32" width="5.43" height="5.41" fill="#d0e126"/>
<rect x="903.51" y="463.32" width="5.43" height="5.41" fill="#d0e126"/>
<rect x="908.54" y="463.32" width="5.43" height="5.41" fill="#d0e126"/>
<rect x="913.57" y="463.32" width="5.43" height="5.41" fill="#d0e126"/>
<rect x="918.60" y="463.32" width="5.43" height="5.41" fill="#d0e126"/>
<rect x="923.63" y="463.32" width="5.43" height="5.41" fill="#d0e126"/>
<rect x="928.66" y="463.32" width="5.43" height="5.41" fill="#d0e126"/>
<rect x="933.69" y="463.32" width="5.43" height="5.41" fill="#d0e126"/>
<rect x="938.72" y="463.32" width="5.43" height="5.41" fill="#b0dc2f"/>
<rect x="943.75" y="463.32" width="5.43" height="5.41" fill="#26848d"/>
<rect x="948.78" y="463.32" width="5.43" height="5.41" fill="#404788"/>
<rect x="953.81" y="463.32" width="5.43" height="5.41" fill="#404788"/>
<rect x="958.84" y="463.32" width="5.43" height="5.41" fill="#3a548a"/>
<rect x="963.87" y="463.32" width="5.43" height="5.41" fill="#404788"/>
<rect x="868.30" y="468.33" width="5.43" height="5.41" fill="#3f4888"/>
<rect x="873.33" y="468.33" width="5.43" height="5.41" fill="#414487"/>
<rect x="878.36" y="468.33" width="5.43" height="5.41" fill="#26848d"/>
<rect x="883.39" y="468.33" width="5.43" height="5.41" fill="#29ad80"/>
<rect x="888.42" y="468.33" width="5.43" height="5.41" fill="#87d448"/>
<rect x="893.45" y="468.33" width="5.43" height="5.41" fill="#b0dc2f"/>
<rect x="898.48" y="468.33" width="5.43" height="5.41" fill="#d0e126"/>
<rect x="903.51" y="468.33" width="5.43" height="5.41" fill="#d0e126"/>
<rect x="908.54" y="468.33" width="5.43" height="5.41" fill="#b0dc2f"/>
<rect x="913.57" y="468.33" width="5.43" height="5.41" fill="#b0dc2f"/>
<rect x="918.60" y="468.33" width="5.43" height="5.41" fill="#b0dc2f"/>
<rect x="923.63" y="468.33" width="5.43" height="5.41" fill="#d0e126"/>
<rect x="928.66" y="468.33" width="5.43" height="5.41" fill="#d0e126"/>
<rect x="933.69" y="468.33" width="5.43" height="5.41" fill="#d0e126"/>
<rect x="938.72" y="468.33" width="5.43" height="5.41" fill="#b0dc2f"/>
<rect x="943.75" y="468.33" width="5.43" height="5.41" fill="#26848d"/>
<rect x="948.78" y="468.33" width="5.43" height="5.41" fill="#404788"/>
<rect x="953.81" y="468.33" width="5.43" height="5.41" fill="#39568b"/>
<rect x="958.84" y="468.33" width="5.43" height="5.41" fill="#424286"/>
<rect x="963.87" y="468.33" width="5.43" height="5.41" fill="#3f4988"/>
<rect x="868.30" y="473.34" width="5.43" height="5.41" fill="#433b82"/>
<rect x="873.33" y="473.34" width="5.43" height="5.41" fill="#3c508a"/>
<rect x="878.36" y="473.34" width="5.43" height="5.41" fill="#3e4a88"/>
<rect x="883.39" y="473.34" width="5.43" height="5.41" fill="#33648d"/>
<rect x="888.42" y="473.34" width="5.43" height="5.41" fill="#26848d"/>
<rect x="893.45" y="473.34" width="5.43" height="5.41" fill="#4fc36a"/>
<rect x="898.48" y="473.34" width="5.43" height="5.41" fill="#b0dc2f"/>
<rect x="903.51" y="473.34" width="5.43" height="5.41" fill="#d0e126"/>
<rect x="908.54" y="473.34" width="5.43" height="5.41" fill="#4fc36a"/>
<rect x="913.57" y="473.34" width="5.43" height="5.41" fill="#26848d"/>
<rect x="918.60" y="473.34" width="5.43" height="5.41" fill="#b0dc2f"/>
<rect x="923.63" y="473.34" width="5.43" height="5.41" fill="#d0e126"/>
<rect x="928.66" y="473.34" width="5.43" height="5.41" fill="#4fc36a"/>
<rect x="933.69" y="473.34" width="5.43" height="5.41" fill="#d0e126"/>
<rect x="938.72" y="473.34" width="5.43" height="5.41" fill="#b0dc2f"/>
<rect x="943.75" y="473.34" width="5.43" height="5.41" fill="#26848d"/>
<rect x="948.78" y="473.34" width="5.43" height="5.41" fill="#34628d"/>
<rect x="953.81" y="473.34" width="5.43" height="5.41" fill="#355e8d"/>
<rect x="958.84" y="473.34" width="5.43" height="5.41" fill="#39578b"/>
<rect x="963.87" y="473.34" width="5.43" height="5.41" fill="#34618d"/>
<rect x="868.30" y="478.35" width="5.43" height="5.41" fill="#3c4e89"/>
<rect x="873.33" y="478.35" width="5.43" height="5.41" fill="#3d4d89"/>
<rect x="878.36" y="478.35" width="5.43" height="5.41" fill="#3d4c89"/>
<rect x="883.39" y="478.35" width="5.43" height="5.41" fill="#423e84"/>
<rect x="888.42" y="478.35" width="5.43" height="5.41" fill="#3e4b89"/>
<rect x="893.45" y="478.35" width="5.43" height="5.41" fill="#26848d"/>
<rect x="898.48" y="478.35" width="5.43" height="5.41" fill="#b0dc2f"/>
<rect x="903.51" y="478.35" width="5.43" height="5.41" fill="#d0e126"/>
<rect x="908.54" y="478.35" width="5.43" height="5.41" fill="#26848d"/>
<rect x="913.57" y="478.35" width="5.43" height="5.41" fill="#26848d"/>
<rect x="918.60" y="478.35" width="5.43" height="5.41" fill="#b0dc2f"/>
<rect x="923.63" y="478.35" width="5.43" height="5.41" fill="#b0dc2f"/>
<rect x="928.66" y="478.35" width="5.43" height="5.41" fill="#87d448"/>
<rect x="933.69" y="478.35" width="5.43" height="5.41" fill="#d0e126"/>
<rect x="938.72" y="478.35" width="5.43" height="5.41" fill="#b0dc2f"/>
<rect x="943.75" y="478.35" width="5.43" height="5.41" fill="#26848d"/>
<rect x="948.78" y="478.35" width="5.43" height="5.41" fill="#34618d"/>
<rect x="953.81" y="478.35" width="5.43" height="5.41" fill="#3a538a"/>
<rect x="958.84" y="478.35" width="5.43" height="5.41" fill="#31688d"/>
<rect x="963.87" y="478.35" width="5.43" height="5.41" fill="#355f8d"/>
<rect x="868.30" y="483.36" width="5.43" height="5.41" fill="#39558b"/>
<rect x="873.33" y="483.36" width="5.43" height="5.41" fill="#424185"/>
<rect x="878.36" y="483.36" width="5.43" height="5.41" fill="#3f4888"/>
<rect x="883.39" y="483.36" width="5.43" height="5.41" fill="#414487"/>
<rect x="888.42" y="483.36" width="5.43" height="5.41" fill="#39558b"/>
<rect x="893.45" y="483.36" width="5.43" height="5.41" fill="#26848d"/>
<rect x="898.48" y="483.36" width="5.43" height="5.41" fill="#b0dc2f"/>
<rect x="903.51" y="483.36" width="5.43" height="5.41" fill="#b0dc2f"/>
<rect x="908.54" y="483.36" width="5.43" height="5.41" fill="#26848d"/>
<rect x="913.57" y="483.36" width="5.43" height="5.41" fill="#26848d"/>
<rect x="918.60" y="483.36" width="5.43" height="5.41" fill="#4fc36a"/>
<rect x="923.63" y="483.36" width="5.43" height="5.41" fill="#29ad80"/>
<rect x="928.66" y="483.36" width="5.43" height="5.41" fill="#4fc36a"/>
<rect x="933.69" y="483.36" width="5.43" height="5.41" fill="#b0dc2f"/>
<rect x="938.72" y="483.36" width="5.43" height="5.41" fill="#4fc36a"/>
<rect x="943.75" y="483.36" width="5.43" height="5.41" fill="#26848d"/>
<rect x="948.78" y="483.36" width="5.43" height="5.41" fill="#365c8c"/>
<rect x="953.81" y="483.36" width="5.43" height="5.41" fill="#33638d"/>
<rect x="958.84" y="483.36" width="5.43" height="5.41" fill="#33648d"/>
<rect x="963.87" y="483.36" width="5.43" height="5.41" fill="#365d8c"/>
<rect x="868.30" y="488.37" width="5.43" height="5.41" fill="#3b528a"/>
<rect x="873.33" y="488.37" width="5.43" height="5.41" fill="#38588b"/>
<rect x="878.36" y="488.37" width="5.43" height="5.41" fill="#39578b"/>
<rect x="883.39" y="488.37" width="5.43" height="5.41" fill="#32658d"/>
<rect x="888.42" y="488.37" width="5.43" height="5.41" fill="#39558b"/>
<rect x="893.45" y="488.37" width="5.43" height="5.41" fill="#26848d"/>
<rect x="898.48" y="488.37" width="5.43" height="5.41" fill="#87d448"/>
<rect x="903.51" y="488.37" width="5.43" height="5.41" fill="#4fc36a"/>
<rect x="908.54" y="488.37" width="5.43" height="5.41" fill="#26848d"/>
<rect x="913.57" y="488.37" width="5.43" height="5.41" fill="#3e4b89"/>
<rect x="918.60" y="488.37" width="5.43" height="5.41" fill="#414487"/>
<rect x="923.63" y="488.37" width="5.43" height="5.41" fill="#3b528a"/>
<rect x="928.66" y="488.37" width="5.43" height="5.41" fill="#26848d"/>
<rect x="933.69" y="488.37" width="5.43" height="5.41" fill="#26848d"/>
<rect x="938.72" y="488.37" width="5.43" height="5.41" fill="#26848d"/>
<rect x="943.75" y="488.37" width="5.43" height="5.41" fill="#33638d"/>
<rect x="948.78" y="488.37" width="5.43" height="5.41" fill="#355e8d"/>
<rect x="953.81" y="488.37" width="5.43" height="5.41" fill="#30698d"/>
<rect x="958.84" y="488.37" width="5.43" height="5.41" fill="#3a548b"/>
<rect x="963.87" y="488.37" width="5.43" height="5.41" fill="#35608d"/>
<rect x="868.30" y="493.38" width="5.43" height="5.41" fill="#3c508a"/>
<rect x="873.33" y="493.38" width="5.43" height="5.41" fill="#34628d"/>
<rect x="878.36" y="493.38" width="5.43" height="5.41" fill="#375b8c"/>
<rect x="883.39" y="493.38" width="5.43" height="5.41" fill="#365c8c"/>
<rect x="888.42" y="493.38" width="5.43" height="5.41" fill="#3c4f89"/>
<rect x="893.45" y="493.38" width="5.43" height="5.41" fill="#33648d"/>
<rect x="898.48" y="493.38" width="5.43" height="5.41" fill="#33648d"/>
<rect x="903.51" y="493.38" width="5.43" height="5.41" fill="#33648d"/>
<rect x="908.54" y="493.38" width="5.43" height="5.41" fill="#414487"/>
<rect x="913.57" y="493.38" width="5.43" height="5.41" fill="#404788"/>
<rect x="918.60" y="493.38" width="5.43" height="5.41" fill="#3e4c89"/>
<rect x="923.63" y="493.38" width="5.43" height="5.41" fill="#3b518a"/>
<rect x="928.66" y="493.38" width="5.43" height="5.41" fill="#404788"/>
<rect x="933.69" y="493.38" width="5.43" height="5.41" fill="#414386"/>
<rect x="938.72" y="493.38" width="5.43" height="5.41" fill="#3f4988"/>
<rect x="943.75" y="493.38" width="5.43" height="5.41" fill="#32658d"/>
<rect x="948.78" y="493.38" width="5.43" height="5.41" fill="#34628d"/>
<rect x="953.81" y="493.38" width="5.43" height="5.41" fill="#38588b"/>
<rect x="958.84" y="493.38" width="5.43" height="5.41" fill="#365c8c"/>
<rect x="963.87" y="493.38" width="5.43" height="5.41" fill="#34618d"/>
<rect x="868.30" y="498.39" width="5.43" height="5.41" fill="#33648d"/>
<rect x="873.33" y="498.39" width="5.43" height="5.41" fill="#38598c"/>
<rect x="878.36" y="498.39" width="5.43" height="5.41" fill="#365c8c"/>
<rect x="883.39" y="498.39" width="5.43" height="5.41" fill="#3d4d89"/>
<rect x="888.42" y="498.39" width="5.43" height="5.41" fill="#34618d"/>
<rect x="893.45" y="498.39" width="5.43" height="5.41" fill="#3e4a88"/>
<rect x="898.48" y="498.39" width="5.43" height="5.41" fill="#3b518a"/>
<rect x="903.51" y="498.39" width="5.43" height="5.41" fill="#433b82"/>
<rect x="908.54" y="498.39" width="5.43" height="5.41" fill="#3d4d89"/>
<rect x="913.57" y="498.39" width="5.43" height="5.41" fill="#3f4888"/>
<rect x="918.60" y="498.39" width="5.43" height="5.41" fill="#39558b"/>
<rect x="923.63" y="498.39" width="5.43" height="5.41" fill="#423e84"/>
<rect x="928.66" y="498.39" width="5.43" height="5.41" fill="#3e4a88"/>
<rect x="933.69" y="498.39" width="5.43" height="5.41" fill="#414487"/>
<rect x="938.72" y="498.39" width="5.43" height="5.41" fill="#39578b"/>
<rect x="943.75" y="498.39" width="5.43" height="5.41" fill="#38598c"/>
<rect x="948.78" y="498.39" width="5.43" height="5.41" fill="#355f8d"/>
<rect x="953.81" y="498.39" width="5.43" height="5.41" fill="#39568b"/>
<rect x="958.84" y="498.39" width="5.43" height="5.41" fill="#306a8d"/>
<rect x="963.87" y="498.39" width="5.43" height="5.41" fill="#365e8d"/>
</g></g>
<text x="929" y="392.6" font-size="27" text-anchor="start" font-weight="normal" font-style="italic" fill="#000" >P</text>
<text x="945" y="398" font-size="16" text-anchor="start" font-weight="normal" font-style="italic" fill="#000" >v t</text>
<text x="944" y="371" font-size="11" text-anchor="middle" font-weight="normal" font-style="normal" fill="#000" >&#923;</text>
<text x="1019" y="495.5" font-size="31" text-anchor="middle" font-weight="normal" font-style="normal" fill="#000" >PIR</text>
<rect x="993" y="231" width="91" height="91.5" fill="#ede6d3"/>
<rect x="993.00" y="231.00" width="7.58" height="7.62" fill="#d5b2a3"/>
<rect x="993.00" y="238.62" width="7.58" height="7.62" fill="#d5b2a3"/>
<rect x="1000.58" y="238.62" width="7.58" height="7.62" fill="#d5b2a3"/>
<rect x="1008.17" y="246.25" width="7.58" height="7.62" fill="#d5b2a3"/>
<rect x="1015.75" y="246.25" width="7.58" height="7.62" fill="#d5b2a3"/>
<rect x="1000.58" y="253.88" width="7.58" height="7.62" fill="#d5b2a3"/>
<rect x="1015.75" y="253.88" width="7.58" height="7.62" fill="#d5b2a3"/>
<rect x="1023.33" y="261.50" width="7.58" height="7.62" fill="#d5b2a3"/>
<rect x="1030.92" y="261.50" width="7.58" height="7.62" fill="#d5b2a3"/>
<rect x="1030.92" y="269.12" width="7.58" height="7.62" fill="#d5b2a3"/>
<rect x="1046.08" y="269.12" width="7.58" height="7.62" fill="#d5b2a3"/>
<rect x="1038.50" y="276.75" width="7.58" height="7.62" fill="#d5b2a3"/>
<rect x="1038.50" y="284.38" width="7.58" height="7.62" fill="#d5b2a3"/>
<rect x="1046.08" y="284.38" width="7.58" height="7.62" fill="#d5b2a3"/>
<rect x="1053.67" y="292.00" width="7.58" height="7.62" fill="#d5b2a3"/>
<rect x="1061.25" y="299.62" width="7.58" height="7.62" fill="#d5b2a3"/>
<rect x="1076.42" y="299.62" width="7.58" height="7.62" fill="#d5b2a3"/>
<rect x="1068.83" y="307.25" width="7.58" height="7.62" fill="#d5b2a3"/>
<rect x="1076.42" y="314.88" width="7.58" height="7.62" fill="#d5b2a3"/>
<path d="M1000.58,231 V322.5 M993,238.62 H1084 M1008.17,231 V322.5 M993,246.25 H1084 M1015.75,231 V322.5 M993,253.88 H1084 M1023.33,231 V322.5 M993,261.50 H1084 M1030.92,231 V322.5 M993,269.12 H1084 M1038.50,231 V322.5 M993,276.75 H1084 M1046.08,231 V322.5 M993,284.38 H1084 M1053.67,231 V322.5 M993,292.00 H1084 M1061.25,231 V322.5 M993,299.62 H1084 M1068.83,231 V322.5 M993,307.25 H1084 M1076.42,231 V322.5 M993,314.88 H1084 " stroke="#7a756b" stroke-width="0.9" fill="none"/>
<rect x="993" y="231" width="91" height="91.5" fill="none" stroke="#000" stroke-width="2"/>
<rect x="1140.6" y="231" width="93" height="92.5" fill="#ede6d3"/>
<rect x="1140.60" y="231.00" width="7.75" height="7.71" fill="#d5b2a3"/>
<rect x="1148.35" y="231.00" width="7.75" height="7.71" fill="#d5b2a3"/>
<rect x="1140.60" y="238.71" width="7.75" height="7.71" fill="#d5b2a3"/>
<rect x="1148.35" y="238.71" width="7.75" height="7.71" fill="#d5b2a3"/>
<rect x="1156.10" y="238.71" width="7.75" height="7.71" fill="#d5b2a3"/>
<rect x="1156.10" y="246.42" width="7.75" height="7.71" fill="#d5b2a3"/>
<rect x="1163.85" y="246.42" width="7.75" height="7.71" fill="#d5b2a3"/>
<rect x="1148.35" y="254.12" width="7.75" height="7.71" fill="#d5b2a3"/>
<rect x="1163.85" y="254.12" width="7.75" height="7.71" fill="#d5b2a3"/>
<rect x="1187.10" y="254.12" width="7.75" height="7.71" fill="#d5b2a3"/>
<rect x="1156.10" y="261.83" width="7.75" height="7.71" fill="#d5b2a3"/>
<rect x="1171.60" y="261.83" width="7.75" height="7.71" fill="#d5b2a3"/>
<rect x="1179.35" y="261.83" width="7.75" height="7.71" fill="#d5b2a3"/>
<rect x="1179.35" y="269.54" width="7.75" height="7.71" fill="#d5b2a3"/>
<rect x="1194.85" y="269.54" width="7.75" height="7.71" fill="#d5b2a3"/>
<rect x="1187.10" y="277.25" width="7.75" height="7.71" fill="#d5b2a3"/>
<rect x="1187.10" y="284.96" width="7.75" height="7.71" fill="#d5b2a3"/>
<rect x="1194.85" y="284.96" width="7.75" height="7.71" fill="#d5b2a3"/>
<rect x="1202.60" y="284.96" width="7.75" height="7.71" fill="#d5b2a3"/>
<rect x="1202.60" y="292.67" width="7.75" height="7.71" fill="#d5b2a3"/>
<rect x="1194.85" y="300.38" width="7.75" height="7.71" fill="#d5b2a3"/>
<rect x="1210.35" y="300.38" width="7.75" height="7.71" fill="#d5b2a3"/>
<rect x="1225.85" y="300.38" width="7.75" height="7.71" fill="#d5b2a3"/>
<rect x="1210.35" y="308.08" width="7.75" height="7.71" fill="#d5b2a3"/>
<rect x="1218.10" y="308.08" width="7.75" height="7.71" fill="#d5b2a3"/>
<rect x="1218.10" y="315.79" width="7.75" height="7.71" fill="#d5b2a3"/>
<rect x="1225.85" y="315.79" width="7.75" height="7.71" fill="#d5b2a3"/>
<path d="M1148.35,231 V323.5 M1140.6,238.71 H1233.6 M1156.10,231 V323.5 M1140.6,246.42 H1233.6 M1163.85,231 V323.5 M1140.6,254.12 H1233.6 M1171.60,231 V323.5 M1140.6,261.83 H1233.6 M1179.35,231 V323.5 M1140.6,269.54 H1233.6 M1187.10,231 V323.5 M1140.6,277.25 H1233.6 M1194.85,231 V323.5 M1140.6,284.96 H1233.6 M1202.60,231 V323.5 M1140.6,292.67 H1233.6 M1210.35,231 V323.5 M1140.6,300.38 H1233.6 M1218.10,231 V323.5 M1140.6,308.08 H1233.6 M1225.85,231 V323.5 M1140.6,315.79 H1233.6 " stroke="#7a756b" stroke-width="0.9" fill="none"/>
<rect x="1140.6" y="231" width="93" height="92.5" fill="none" stroke="#000" stroke-width="2"/>
<rect x="1067.3" y="380.2" width="90.7" height="91.5" fill="#ede6d3"/>
<rect x="1067.30" y="380.20" width="7.56" height="7.62" fill="#d5b2a3"/>
<rect x="1067.30" y="387.82" width="7.56" height="7.62" fill="#d5b2a3"/>
<rect x="1074.86" y="387.82" width="7.56" height="7.62" fill="#d5b2a3"/>
<rect x="1082.42" y="395.45" width="7.56" height="7.62" fill="#d5b2a3"/>
<rect x="1089.97" y="395.45" width="7.56" height="7.62" fill="#d5b2a3"/>
<rect x="1074.86" y="403.07" width="7.56" height="7.62" fill="#d5b2a3"/>
<rect x="1089.97" y="403.07" width="7.56" height="7.62" fill="#d5b2a3"/>
<rect x="1097.53" y="410.70" width="7.56" height="7.62" fill="#d5b2a3"/>
<rect x="1105.09" y="410.70" width="7.56" height="7.62" fill="#d5b2a3"/>
<rect x="1105.09" y="418.32" width="7.56" height="7.62" fill="#d5b2a3"/>
<rect x="1120.21" y="418.32" width="7.56" height="7.62" fill="#d5b2a3"/>
<rect x="1112.65" y="425.95" width="7.56" height="7.62" fill="#d5b2a3"/>
<rect x="1112.65" y="433.57" width="7.56" height="7.62" fill="#d5b2a3"/>
<rect x="1120.21" y="433.57" width="7.56" height="7.62" fill="#d5b2a3"/>
<rect x="1127.77" y="441.20" width="7.56" height="7.62" fill="#d5b2a3"/>
<rect x="1135.33" y="448.82" width="7.56" height="7.62" fill="#d5b2a3"/>
<rect x="1150.44" y="448.82" width="7.56" height="7.62" fill="#d5b2a3"/>
<rect x="1142.88" y="456.45" width="7.56" height="7.62" fill="#d5b2a3"/>
<rect x="1150.44" y="464.07" width="7.56" height="7.62" fill="#d5b2a3"/>
<path d="M1074.86,380.2 V471.7 M1067.3,387.82 H1158.0 M1082.42,380.2 V471.7 M1067.3,395.45 H1158.0 M1089.97,380.2 V471.7 M1067.3,403.07 H1158.0 M1097.53,380.2 V471.7 M1067.3,410.70 H1158.0 M1105.09,380.2 V471.7 M1067.3,418.32 H1158.0 M1112.65,380.2 V471.7 M1067.3,425.95 H1158.0 M1120.21,380.2 V471.7 M1067.3,433.57 H1158.0 M1127.77,380.2 V471.7 M1067.3,441.20 H1158.0 M1135.33,380.2 V471.7 M1067.3,448.82 H1158.0 M1142.88,380.2 V471.7 M1067.3,456.45 H1158.0 M1150.44,380.2 V471.7 M1067.3,464.07 H1158.0 " stroke="#7a756b" stroke-width="0.9" fill="none"/>
<rect x="1067.3" y="380.2" width="90.7" height="91.5" fill="none" stroke="#000" stroke-width="2"/>
<rect x="1067.6" y="500.3" width="90" height="90" fill="#bfb6aa"/>
<rect x="1067.60" y="500.30" width="7.50" height="7.50" fill="#b9a89e"/>
<rect x="1067.60" y="507.80" width="7.50" height="7.50" fill="#b9a89e"/>
<rect x="1075.10" y="507.80" width="7.50" height="7.50" fill="#b9a89e"/>
<rect x="1082.60" y="515.30" width="7.50" height="7.50" fill="#b9a89e"/>
<rect x="1090.10" y="515.30" width="7.50" height="7.50" fill="#b9a89e"/>
<rect x="1075.10" y="522.80" width="7.50" height="7.50" fill="#b9a89e"/>
<rect x="1090.10" y="522.80" width="7.50" height="7.50" fill="#b9a89e"/>
<rect x="1097.60" y="530.30" width="7.50" height="7.50" fill="#b9a89e"/>
<rect x="1105.10" y="530.30" width="7.50" height="7.50" fill="#b9a89e"/>
<rect x="1105.10" y="537.80" width="7.50" height="7.50" fill="#b9a89e"/>
<rect x="1120.10" y="537.80" width="7.50" height="7.50" fill="#b9a89e"/>
<rect x="1112.60" y="545.30" width="7.50" height="7.50" fill="#b9a89e"/>
<rect x="1112.60" y="552.80" width="7.50" height="7.50" fill="#b9a89e"/>
<rect x="1120.10" y="552.80" width="7.50" height="7.50" fill="#b9a89e"/>
<rect x="1127.60" y="560.30" width="7.50" height="7.50" fill="#b9a89e"/>
<rect x="1135.10" y="567.80" width="7.50" height="7.50" fill="#b9a89e"/>
<rect x="1142.60" y="575.30" width="7.50" height="7.50" fill="#b9a89e"/>
<rect x="1150.10" y="500.30" width="7.50" height="7.50" fill="#ebe5d6"/>
<rect x="1150.10" y="507.80" width="7.50" height="7.50" fill="#ebe5d6"/>
<rect x="1150.10" y="515.30" width="7.50" height="7.50" fill="#ebe5d6"/>
<rect x="1150.10" y="522.80" width="7.50" height="7.50" fill="#ebe5d6"/>
<rect x="1150.10" y="530.30" width="7.50" height="7.50" fill="#ebe5d6"/>
<rect x="1150.10" y="537.80" width="7.50" height="7.50" fill="#ebe5d6"/>
<rect x="1150.10" y="545.30" width="7.50" height="7.50" fill="#ebe5d6"/>
<rect x="1150.10" y="552.80" width="7.50" height="7.50" fill="#ebe5d6"/>
<rect x="1150.10" y="560.30" width="7.50" height="7.50" fill="#ebe5d6"/>
<rect x="1150.10" y="567.80" width="7.50" height="7.50" fill="#d7b2a7"/>
<rect x="1150.10" y="575.30" width="7.50" height="7.50" fill="#ebe5d6"/>
<rect x="1150.10" y="582.80" width="7.50" height="7.50" fill="#d7b2a7"/>
<path d="M1075.10,500.3 V590.3 M1067.6,507.80 H1157.6 M1082.60,500.3 V590.3 M1067.6,515.30 H1157.6 M1090.10,500.3 V590.3 M1067.6,522.80 H1157.6 M1097.60,500.3 V590.3 M1067.6,530.30 H1157.6 M1105.10,500.3 V590.3 M1067.6,537.80 H1157.6 M1112.60,500.3 V590.3 M1067.6,545.30 H1157.6 M1120.10,500.3 V590.3 M1067.6,552.80 H1157.6 M1127.60,500.3 V590.3 M1067.6,560.30 H1157.6 M1135.10,500.3 V590.3 M1067.6,567.80 H1157.6 M1142.60,500.3 V590.3 M1067.6,575.30 H1157.6 M1150.10,500.3 V590.3 M1067.6,582.80 H1157.6 " stroke="#8f877d" stroke-width="0.9" fill="none"/>
<rect x="1067.6" y="500.3" width="90" height="90" fill="none" stroke="#000" stroke-width="2"/>
<text x="1016" y="228.2" font-size="20" text-anchor="start" font-weight="normal" font-style="italic" fill="#000" >D</text>
<circle cx="1033.7" cy="223" r="2.3" fill="#000"/>
<text x="1039" y="228.2" font-size="20" text-anchor="start" font-weight="normal" font-style="italic" fill="#000" >D</text>
<text x="1054.2" y="219.6" font-size="12.5" text-anchor="start" font-weight="normal" font-style="italic" fill="#000" >T</text>
<text x="1209.8" y="226.6" font-size="18" text-anchor="start" font-weight="normal" font-style="italic" fill="#000" >D</text>
<path d="M1140.6,277.2 L1084.5,277.2" fill="none" stroke="#000" stroke-width="2" />
<path d="M1098.0,270.4 L1084.5,277.2 L1098.0,284.0" fill="none" stroke="#000" stroke-width="2" stroke-linejoin="miter"/>
<path d="M1038.6,322.5 L1038.6,335.2 L1097.8,335.2" fill="none" stroke="#000" stroke-width="2" />
<path d="M1084.3,342.0 L1097.8,335.2 L1084.3,328.4" fill="none" stroke="#000" stroke-width="2" stroke-linejoin="miter"/>
<path d="M1187.2,323.7 L1187.2,335.2 L1126.5,335.2" fill="none" stroke="#000" stroke-width="2" />
<path d="M1140.0,328.4 L1126.5,335.2 L1140.0,342.0" fill="none" stroke="#000" stroke-width="2" stroke-linejoin="miter"/>
<rect x="1098" y="320" width="28.2" height="30.3" rx="5" fill="none" stroke="#000" stroke-width="2"/>
<text x="1112.1" y="342" font-size="17" text-anchor="middle" font-weight="bold" font-style="normal" fill="#000" >M</text>
<path d="M1112.4,350.3 L1112.4,380.2" fill="none" stroke="#000" stroke-width="2" />
<path d="M1105.6,366.7 L1112.4,380.2 L1119.2,366.7" fill="none" stroke="#000" stroke-width="2" stroke-linejoin="miter"/>
<text x="1167" y="435.6" font-size="21" text-anchor="start" font-weight="normal" font-style="italic" fill="#000" >R</text>
<path d="M1112.3,471.7 L1112.3,500.3" fill="none" stroke="#000" stroke-width="2" />
<path d="M1105.5,486.8 L1112.3,500.3 L1119.1,486.8" fill="none" stroke="#000" stroke-width="2" stroke-linejoin="miter"/>
<text x="1162.5" y="560.7" font-size="24" text-anchor="start" font-weight="normal" font-style="italic" fill="#000" >B</text>
<circle cx="1187.1" cy="554.5" r="8.6" fill="none" stroke="#000" stroke-width="1.4"/>
<circle cx="1187.1" cy="554.5" r="1.4" fill="#000"/>
<text x="1197.5" y="560.7" font-size="24" text-anchor="start" font-weight="normal" font-style="italic" fill="#000" >R</text>
<rect x="44.5" y="500.5" width="210" height="86" fill="#fff" stroke="#000" stroke-width="2"/>
<text x="148" y="539" font-size="21" text-anchor="middle">a photo of {<tspan font-style="italic" fill="#2474c0">dog</tspan>}</text>
<text x="148" y="563.7" font-size="21" text-anchor="middle">a photo without {<tspan font-style="italic" fill="#2474c0">dog</tspan>}</text>
<path d="M263.2,534.5 H277 V525.0 L292.2,543.5 L277,562.0 V552.5 H263.2 Z" fill="#fff" stroke="#000" stroke-width="2" stroke-linejoin="miter"/>
<path d="M303,467 L374,484.4 L374,600.1 L303,618 Z" fill="#f2f2f2" stroke="#000" stroke-width="2"/>
<text x="0" y="0" font-size="21" text-anchor="middle" font-weight="normal" font-style="normal" fill="#000" transform="translate(342,543) rotate(90)">CLIP&#160;&#160;Text-</text>
<text x="0" y="0" font-size="21" text-anchor="middle" font-weight="normal" font-style="normal" fill="#000" transform="translate(316,543) rotate(90)">Encoder</text>
<path d="M317.5,597 L317.50,585.70 M317.50,589.99 L320.89,588.19 M317.50,589.99 L314.11,588.19 M317.5,597 L307.71,591.35 M311.43,593.50 L311.57,589.66 M311.43,593.50 L308.17,595.53 M317.5,597 L307.71,602.65 M311.43,600.50 L308.17,598.47 M311.43,600.50 L311.57,604.34 M317.5,597 L317.50,608.30 M317.50,604.01 L314.11,605.81 M317.50,604.01 L320.89,605.81 M317.5,597 L327.29,602.65 M323.57,600.50 L323.43,604.34 M323.57,600.50 L326.83,598.47 M317.5,597 L327.29,591.35 M323.57,593.50 L326.83,595.53 M323.57,593.50 L323.43,589.66 " stroke="#5b9bd5" stroke-width="1.6" fill="none" stroke-linecap="round"/>
<path d="M381,536 H395.5 V526.5 L410.3,545 L395.5,563.5 V554 H381 Z" fill="#fff" stroke="#000" stroke-width="2" stroke-linejoin="miter"/>
<path d="M27,639 L60,639" fill="none" stroke="#b67c61" stroke-width="2.5" />
<path d="M57,633 L69,639 L57,645 Z" fill="#b67c61"/>
<text x="75" y="645" font-size="17.5" text-anchor="start" font-weight="bold" font-style="normal" fill="#000" >Gradients</text>
<path d="M177.5,639 L208,639" fill="none" stroke="#000" stroke-width="2.5" stroke-dasharray="6 4" />
<path d="M206,633 L218,639 L206,645 Z" fill="#000"/>
<text x="224" y="645" font-size="17.5" text-anchor="start" font-weight="bold" font-style="normal" fill="#000" >CAM</text>
<circle cx="308.7" cy="638.9" r="12.5" fill="none" stroke="#000" stroke-width="2"/>
<path d="M300,630.2 L317.4,647.6 M317.4,630.2 L300,647.6" stroke="#000" stroke-width="2"/>
<text x="329" y="645" font-size="17.5" text-anchor="start" font-weight="bold" font-style="normal" fill="#000" >Dot product</text>
<circle cx="465.8" cy="638.9" r="12.3" fill="none" stroke="#000" stroke-width="2"/>
<text x="465.8" y="645.5" font-size="18.5" text-anchor="middle" font-weight="normal" font-style="normal" fill="#000" >F</text>
<text x="488" y="645" font-size="17.5" text-anchor="start" font-weight="bold" font-style="normal" fill="#000" >Fusion operation</text>
<path d="M647.9,639.3 L647.90,628.00 M647.90,632.29 L651.29,630.49 M647.90,632.29 L644.51,630.49 M647.9,639.3 L638.11,633.65 M641.83,635.80 L641.97,631.96 M641.83,635.80 L638.57,637.83 M647.9,639.3 L638.11,644.95 M641.83,642.80 L638.57,640.77 M641.83,642.80 L641.97,646.64 M647.9,639.3 L647.90,650.60 M647.90,646.31 L644.51,648.11 M647.90,646.31 L651.29,648.11 M647.9,639.3 L657.69,644.95 M653.97,642.80 L653.83,646.64 M653.97,642.80 L657.23,640.77 M647.9,639.3 L657.69,633.65 M653.97,635.80 L657.23,637.83 M653.97,635.80 L653.83,631.96 " stroke="#6aa6dc" stroke-width="1.4" fill="none" stroke-linecap="round"/>
<text x="672" y="645" font-size="17.5" text-anchor="start" font-weight="bold" font-style="normal" fill="#000" >Frozen</text>
<circle cx="753.5" cy="638.9" r="12.3" fill="none" stroke="#000" stroke-width="2"/>
<text x="753.5" y="645.5" font-size="18.5" text-anchor="middle" font-weight="normal" font-style="normal" fill="#000" >C</text>
<text x="775" y="645" font-size="17.5" text-anchor="start" font-weight="bold" font-style="normal" fill="#000" >Cosine similarity</text>
<rect x="931.5" y="624.5" width="25.5" height="25" rx="4" fill="none" stroke="#000" stroke-width="2"/>
<text x="944.2" y="643.5" font-size="17" text-anchor="middle" font-weight="bold" font-style="normal" fill="#000" >M</text>
<text x="965" y="645" font-size="17.5" text-anchor="start" font-weight="bold" font-style="normal" fill="#000" >Max selection</text>
<rect x="1086.5" y="624.5" width="25.5" height="25" rx="4" fill="none" stroke="#000" stroke-width="2"/>
<text x="1099.2" y="643.5" font-size="17" text-anchor="middle" font-weight="bold" font-style="normal" fill="#000" >N</text>
<text x="1128" y="645" font-size="17.5" text-anchor="start" font-weight="bold" font-style="normal" fill="#000" >Normalization</text>
</svg>
</body></html>
